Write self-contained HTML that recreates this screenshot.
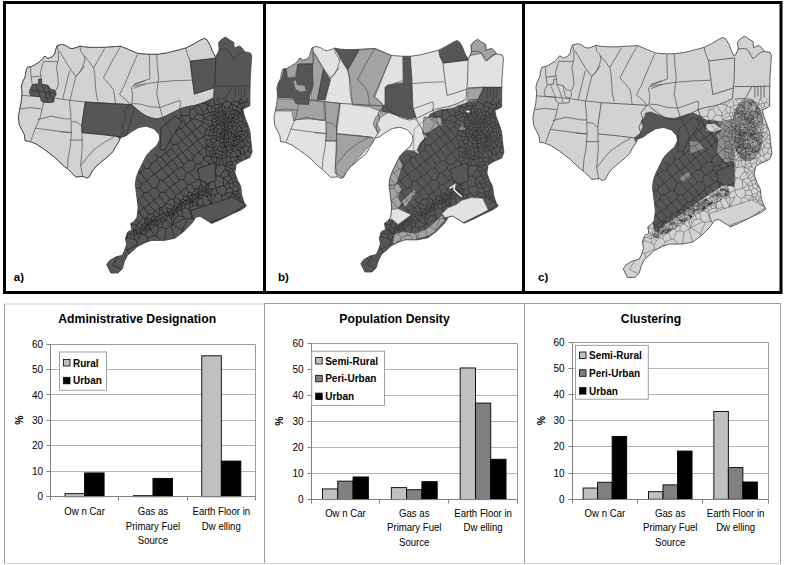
<!DOCTYPE html>
<html><head><meta charset="utf-8"><style>
html,body{margin:0;padding:0;background:#fff;}
svg{display:block;font-family:"Liberation Sans", sans-serif;}
</style></head><body>
<svg width="785" height="565" viewBox="0 0 785 565">
<rect x="0" y="0" width="785" height="565" fill="#fff"/>
<defs>
<polygon id="outl" points="57.1,45.5 62.1,44.3 65.8,45.5 69.5,48.0 72.6,48.6 78.2,46.8 80.0,45.9 84.4,46.8 91.1,47.4 99.8,47.4 110.9,46.8 120.8,46.2 128.3,49.3 137.0,53.0 140.0,53.6 149.3,54.2 157.3,54.2 166.5,52.9 174.5,50.9 179.8,49.6 185.8,47.9 193.1,44.3 199.7,40.3 204.4,38.3 207.0,39.6 210.4,45.6 212.3,50.9 215.0,56.2 216.2,55.8 218.1,52.4 219.1,49.5 218.6,42.7 221.1,39.7 225.4,37.0 229.3,39.7 233.7,42.2 234.2,48.0 239.6,46.1 242.0,48.0 244.9,51.9 250.3,52.9 251.7,55.8 251.3,62.1 250.8,68.9 250.3,76.7 250.1,85.0 249.9,95.0 249.9,105.7 243.0,109.2 244.1,114.9 247.6,124.1 249.9,131.0 251.0,142.5 252.2,151.7 249.9,157.5 241.8,161.0 236.1,164.4 234.9,172.5 237.2,179.4 240.7,186.3 241.8,195.5 244.1,202.4 246.4,206.0 241.8,209.5 231.6,214.2 221.1,219.4 211.6,223.6 208.5,221.5 200.1,216.3 195.9,217.3 191.7,223.6 183.3,232.0 174.9,238.3 164.4,240.4 151.7,240.4 145.4,242.5 137.0,246.7 133.9,249.9 127.6,255.2 124.4,261.5 122.3,268.8 118.1,273.0 110.8,273.0 106.6,264.6 109.7,260.4 116.0,256.8 122.3,255.2 124.4,251.0 126.5,244.6 125.5,238.3 127.6,232.0 131.8,229.9 130.7,223.6 133.9,221.5 137.0,217.3 138.1,207.9 137.0,198.4 136.0,190.0 135.3,185.0 136.2,177.6 139.0,170.2 142.7,162.8 146.4,155.4 151.4,150.0 156.5,146.0 159.7,139.6 159.1,134.5 154.0,128.8 146.3,126.2 138.7,127.5 131.0,132.0 126.0,135.8 120.6,137.7 119.5,140.4 117.4,144.1 115.2,147.3 113.1,151.6 108.9,155.8 102.5,161.1 96.1,166.4 91.9,171.7 89.2,177.1 86.6,178.1 83.4,176.5 75.9,177.1 72.7,173.9 68.5,169.6 64.2,166.4 60.1,162.7 54.8,157.4 49.5,153.4 44.2,149.4 36.2,144.1 29.6,141.5 25.0,140.8 24.3,134.8 22.3,130.8 19.0,124.2 18.3,116.2 19.6,109.6 21.0,103.0 21.5,99.0 21.8,94.5 21.8,90.8 21.2,87.0 22.4,82.1 24.9,77.1 26.2,69.7 27.4,67.2 31.1,66.6 34.8,64.7 39.8,61.6 42.9,58.5 44.1,56.3 46.0,56.7 47.8,58.5 52.2,56.7 54.7,53.6 55.9,48.6"/>
<clipPath id="clipA"><use href="#outl"/></clipPath>
<clipPath id="clipB"><use href="#outl" transform="matrix(0.983 0 0 0.986 256 2.8)"/></clipPath>
<clipPath id="clipC"><use href="#outl" transform="matrix(1.022 0 0 1.022 514.2 -1.6)"/></clipPath>
<g id="llines"><polyline points="21.8,95.4 40.2,96.6 54.8,98.2 69.4,100.3 85.2,102.0" fill="none" stroke="#505050" stroke-width="0.7"/><polyline points="57.1,45.5 58.4,51.1 58.4,59.8 56.5,67.2 57.8,75.9 58.4,84.6 55.9,90.5" fill="none" stroke="#505050" stroke-width="0.7"/><polyline points="43.5,61.6 57.8,61.6" fill="none" stroke="#505050" stroke-width="0.7"/><polyline points="43.5,61.6 40.4,72.2 41.0,77.1 41.6,79.0" fill="none" stroke="#505050" stroke-width="0.7"/><polyline points="31.1,77.1 41.0,75.9" fill="none" stroke="#505050" stroke-width="0.7"/><polyline points="30.5,67.2 31.1,77.1 32.3,84.6" fill="none" stroke="#505050" stroke-width="0.7"/><polyline points="59.6,51.1 64.6,59.8 69.5,67.8 75.7,76.5 80.7,70.9 84.3,66.0" fill="none" stroke="#505050" stroke-width="0.7"/><polyline points="69.5,70.9 64.6,90.8 62.7,99.2" fill="none" stroke="#505050" stroke-width="0.7"/><polyline points="75.7,77.1 73.2,87.0 70.1,100.0" fill="none" stroke="#505050" stroke-width="0.7"/><polyline points="80.0,46.2 80.6,51.1 84.3,56.1 84.9,59.8 83.0,66.0 80.0,72.2 76.2,75.9 75.7,77.1" fill="none" stroke="#505050" stroke-width="0.7"/><polyline points="84.3,56.1 88.6,61.0 93.6,67.8 94.8,74.7 95.4,84.6 96.1,93.2 97.9,101.2" fill="none" stroke="#505050" stroke-width="0.7"/><polyline points="104.7,48.6 93.6,67.8" fill="none" stroke="#505050" stroke-width="0.7"/><polyline points="120.8,46.2 112.2,61.0 103.5,77.8 108.5,83.3 113.4,89.5 114.7,97.0 115.3,103.6" fill="none" stroke="#505050" stroke-width="0.7"/><polyline points="137.6,54.2 130.8,69.7 124.6,84.6 119.6,94.5 127.0,100.7 129.8,104.6" fill="none" stroke="#505050" stroke-width="0.7"/><polyline points="145.0,80.8 134.5,84.6 131.4,87.7 132.6,94.5 132.0,103.8" fill="none" stroke="#505050" stroke-width="0.7"/><polyline points="145.0,84.0 133.9,88.3" fill="none" stroke="#505050" stroke-width="0.7"/><polyline points="149.3,54.2 149.6,68.2 150.0,78.8 140.0,82.1 133.9,84.2" fill="none" stroke="#505050" stroke-width="0.7"/><polyline points="156.6,54.2 157.3,65.5 158.6,77.5 157.3,88.1 156.6,93.4 157.9,99.0 159.6,106.8 162.7,117.0" fill="none" stroke="#505050" stroke-width="0.7"/><polyline points="133.0,86.0 140.0,84.8 157.3,82.1 173.2,80.8 191.8,80.1" fill="none" stroke="#505050" stroke-width="0.7"/><polyline points="185.8,47.9 187.1,53.6 190.2,61.2" fill="none" stroke="#505050" stroke-width="0.7"/><polyline points="132.5,103.5 140.0,104.0 150.0,106.8 160.2,107.4 179.9,100.4 180.6,104.8 179.3,109.3" fill="none" stroke="#505050" stroke-width="0.7"/><polyline points="20.3,108.9 29.6,107.6 41.5,108.9" fill="none" stroke="#505050" stroke-width="0.7"/><polyline points="43.5,102.5 40.2,117.6 34.9,129.5 30.9,140.8" fill="none" stroke="#505050" stroke-width="0.7"/><polyline points="37.6,119.6 50.8,116.2 65.4,118.9 70.8,118.9" fill="none" stroke="#505050" stroke-width="0.7"/><polyline points="34.9,128.2 50.8,130.2 70.8,132.8" fill="none" stroke="#505050" stroke-width="0.7"/><polyline points="69.4,100.3 70.8,114.9 71.4,133.5 70.1,148.1 68.1,158.7 67.4,170.0" fill="none" stroke="#505050" stroke-width="0.7"/><polyline points="71.4,121.5 77.4,122.2 81.4,126.2" fill="none" stroke="#505050" stroke-width="0.7"/><polyline points="70.1,140.1 83.4,140.1" fill="none" stroke="#505050" stroke-width="0.7"/><polyline points="81.8,132.6 82.3,146.2 80.7,165.4 82.8,177.1" fill="none" stroke="#505050" stroke-width="0.7"/><polyline points="80.7,165.4 92.9,150.5 104.6,142.0 114.2,136.7" fill="none" stroke="#505050" stroke-width="0.7"/><polyline points="60.0,131.9 71.7,132.4" fill="none" stroke="#505050" stroke-width="0.7"/></g>
<g id="clines"><polyline points="216.2,55.8 219.1,49.5 225.4,49.0 228.4,50.0 233.7,59.2 241.0,52.9 244.9,51.9" fill="none" stroke="#3a3a3a" stroke-width="0.7"/><polyline points="215.7,58.2 215.2,80.0 214.3,88.0 213.7,97.8" fill="none" stroke="#3a3a3a" stroke-width="0.7"/><polyline points="215.5,86.3 250.5,85.9" fill="none" stroke="#3a3a3a" stroke-width="0.7"/><polyline points="235.5,86.0 235.5,97.0" fill="none" stroke="#3a3a3a" stroke-width="0.7"/><polyline points="238.5,86.0 238.5,96.0" fill="none" stroke="#3a3a3a" stroke-width="0.7"/><polyline points="241.5,86.0 241.5,98.0" fill="none" stroke="#3a3a3a" stroke-width="0.7"/><polyline points="244.5,86.0 244.5,97.0" fill="none" stroke="#3a3a3a" stroke-width="0.7"/><polyline points="232.8,86.0 226.0,98.0" fill="none" stroke="#3a3a3a" stroke-width="0.7"/><polyline points="216.0,98.5 226.0,98.0" fill="none" stroke="#3a3a3a" stroke-width="0.7"/><polyline points="190.2,61.2 215.7,58.2" fill="none" stroke="#3a3a3a" stroke-width="0.7"/><polyline points="190.2,61.2 191.8,74.8 194.4,94.1 214.3,87.6" fill="none" stroke="#3a3a3a" stroke-width="0.7"/><polyline points="85.2,102.0 129.8,104.6" fill="none" stroke="#3a3a3a" stroke-width="0.7"/><polyline points="85.2,102.0 81.8,125.0 82.0,132.6 102.5,134.6 119.5,136.7" fill="none" stroke="#3a3a3a" stroke-width="0.7"/><polyline points="129.8,104.6 131.0,103.9 134.9,107.7 141.2,112.8 146.3,116.0 151.4,117.9 156.4,118.9 162.7,117.6 169.1,114.4 175.5,111.2 180.6,108.7 186.9,106.8 194.6,105.5 201.0,103.6 207.3,101.0 213.7,97.8" fill="none" stroke="#3a3a3a" stroke-width="0.7"/><polyline points="129.8,104.6 124.0,112.0 126.0,118.0 122.0,126.0 124.0,132.0 120.6,137.7" fill="none" stroke="#3a3a3a" stroke-width="0.7"/><polyline points="163.0,118.0 170.0,130.0 172.0,140.0" fill="none" stroke="#3a3a3a" stroke-width="0.7"/><polyline points="180.0,109.0 186.0,125.0 200.0,140.0" fill="none" stroke="#3a3a3a" stroke-width="0.7"/></g>
<path id="tex" d="M112.8 265.1L121.5 269.6M112.8 265.1L118.1 256.3M129.1 253.9L127.4 249.5M127.4 249.5L125.2 248.7M147.1 241.9L146.5 241.4M146.5 241.4L140.8 244.8M127.4 249.5L137.5 245.3M137.5 245.3L138.8 245.8M160.9 240.4L156.0 235.9M156.0 235.9L154.2 235.6M146.5 241.4L147.8 238.1M154.2 235.6L147.8 238.1M182.8 216.6L181.6 210.3M182.8 216.6L179.0 215.8M179.0 215.8L176.9 212.5M176.9 212.5L177.0 212.4M177.0 212.4L177.3 211.5M180.1 210.0L177.3 211.5M180.1 210.0L180.6 210.0M180.6 210.0L181.6 210.3M180.8 191.7L186.0 187.7M180.8 191.7L174.9 183.8M183.8 179.6L179.6 179.9M183.8 179.6L187.2 184.4M187.2 184.4L186.0 187.7M174.9 183.8L179.6 179.9M190.9 184.2L196.5 179.8M190.9 184.2L187.2 184.4M186.3 172.7L183.8 179.6M186.3 172.7L189.5 172.3M196.5 179.8L189.5 172.3M179.0 215.8L176.6 216.5M176.9 212.5L173.5 213.8M176.6 216.5L173.4 213.9M173.4 213.9L173.5 213.8M172.6 224.5L182.4 230.3M172.6 224.5L172.4 224.5M172.4 224.5L171.6 224.9M171.6 224.9L170.9 225.9M170.9 225.9L174.8 238.3M182.4 230.3L182.8 231.4M182.8 231.4L181.7 233.2M186.9 219.3L184.6 218.4M186.9 219.3L182.4 230.3M184.6 218.4L172.6 224.5M164.5 240.4L166.3 228.7M166.3 228.7L170.9 225.9M186.9 219.3L192.1 218.1M193.1 218.4L192.1 218.1M183.7 231.6L182.8 231.4M134.4 230.3L135.0 230.3M134.4 230.3L131.5 228.1M135.0 230.3L136.6 224.6M136.6 224.6L131.5 225.1M131.0 225.5L131.5 225.1M237.2 211.6L235.6 211.3M229.3 215.3L229.3 215.3M211.4 223.5L214.2 220.7M222.8 218.6L222.2 217.8M207.1 192.3L206.8 189.8M207.1 192.3L205.9 192.9M205.9 192.9L206.0 190.7M206.8 189.8L206.0 190.7M204.6 191.1L204.7 194.3M204.6 191.1L206.0 190.7M204.7 194.3L205.9 192.9M202.3 189.4L204.2 189.0M202.3 189.4L201.5 185.0M204.2 189.0L205.1 187.9M201.5 185.0L205.1 187.9M207.2 189.0L209.6 189.1M207.2 189.0L205.6 187.9M209.6 189.1L208.7 186.6M208.7 186.6L206.5 185.3M206.5 185.3L205.6 187.9M204.6 191.1L204.1 190.7M207.2 189.0L206.8 189.8M204.1 190.7L204.2 189.0M205.1 187.9L205.6 187.9M137.3 200.7L137.8 200.3M137.1 199.5L137.8 200.3M149.1 204.5L149.3 203.7M149.1 204.5L144.3 207.9M149.3 203.7L142.6 196.2M144.3 207.9L143.8 208.0M143.8 208.0L137.9 200.3M142.6 196.2L137.9 200.3M216.2 220.0L217.2 221.1M127.1 234.0L127.1 236.9M127.1 234.0L130.1 233.9M127.1 236.9L135.2 239.8M130.1 233.9L134.0 235.7M135.2 239.8L134.0 235.7M127.0 233.8L127.1 234.0M125.8 240.0L127.1 236.9M133.9 231.1L130.1 233.9M133.9 231.1L134.4 230.3M136.9 241.9L137.5 245.3M136.9 241.9L135.2 239.8M134.2 235.4L133.9 231.1M134.2 235.4L134.0 235.7M136.9 241.9L139.0 237.3M134.2 235.4L136.1 233.9M139.0 237.3L136.1 233.9M160.4 207.6L160.0 207.9M160.4 207.6L161.6 207.5M161.6 207.5L163.2 212.8M162.2 214.8L163.1 213.5M162.2 214.8L159.7 214.8M160.0 207.9L159.7 214.8M163.2 212.8L163.1 213.5M180.1 210.0L177.0 208.7M177.3 211.5L176.4 210.3M177.0 208.7L176.4 210.3M177.0 212.4L174.5 210.9M174.5 210.9L175.6 210.2M176.4 210.3L175.6 210.2M153.8 200.1L153.7 200.3M153.8 200.1L158.9 195.9M153.7 200.3L160.4 207.6M161.6 207.5L164.4 205.8M158.9 195.9L165.2 203.9M164.4 205.8L165.2 203.9M174.4 211.0L172.4 208.7M174.4 211.0L173.4 213.7M173.3 213.6L173.4 213.7M173.3 213.6L171.8 209.0M171.8 209.0L172.4 208.7M174.5 210.9L174.4 211.0M173.5 213.8L173.4 213.7M170.5 212.0L173.3 213.6M170.5 212.0L171.3 209.2M171.3 209.2L171.8 209.0M184.6 218.4L182.8 216.6M192.1 218.1L189.4 209.5M181.6 210.3L182.9 209.0M189.4 209.5L185.2 207.7M182.9 209.0L185.2 207.7M174.2 183.9L169.6 187.9M174.2 183.9L174.9 183.8M180.6 192.1L175.9 195.4M180.6 192.1L180.8 191.7M175.9 195.4L169.6 187.9M158.9 195.9L160.0 192.4M160.0 192.4L164.7 192.1M165.2 203.9L166.0 203.4M166.0 203.4L169.9 199.3M169.9 199.3L164.7 192.1M137.5 213.0L138.3 212.3M137.7 211.4L138.3 212.3M136.6 224.6L136.7 224.5M131.5 225.1L132.0 222.7M136.7 224.5L138.4 222.4M138.4 222.4L135.7 219.0M138.9 212.2L138.3 212.3M138.9 212.2L143.8 208.0M137.8 200.3L137.9 200.3M176.6 216.5L174.2 219.8M172.4 224.5L172.4 224.5M172.4 224.5L174.2 219.8M173.1 214.3L173.4 213.9M173.1 214.3L172.8 215.3M174.2 219.8L172.8 215.3M141.7 225.1L141.4 227.1M141.7 225.1L145.0 227.3M141.4 227.1L143.9 228.5M145.0 227.3L143.9 228.5M251.7 153.0L247.8 151.1M247.8 151.1L244.3 153.2M248.1 158.3L246.7 157.9M246.7 157.9L243.9 154.0M243.9 154.0L244.3 153.2M251.4 145.8L250.9 145.7M247.8 151.1L248.9 146.7M250.9 145.7L248.9 146.7M247.5 98.1L246.5 101.5M249.9 104.6L246.5 101.5M245.1 117.6L244.2 117.0M244.7 116.4L244.2 117.0M231.3 102.8L233.4 100.9M231.3 102.8L225.8 100.7M225.8 100.7L225.4 98.5M233.4 100.9L234.3 98.3M180.6 113.2L181.2 115.6M189.6 108.7L190.4 109.3M181.2 115.6L189.2 115.4M190.4 109.3L189.2 115.4M247.2 123.0L246.5 123.9M249.0 128.3L248.3 128.1M246.5 123.9L247.2 126.0M248.3 128.1L247.2 126.0M209.1 183.8L210.4 182.5M209.1 183.8L206.5 184.9M206.5 184.9L201.6 180.4M208.7 186.6L209.1 183.8M206.5 185.3L206.5 184.9M200.8 184.2L201.5 185.0M200.8 184.2L200.8 179.9M135.8 188.4L140.1 188.1M142.6 196.2L143.7 192.7M140.1 188.1L143.7 192.7M153.8 200.1L147.8 192.2M153.7 200.3L149.3 203.7M143.7 192.7L147.8 192.2M156.6 187.9L160.0 192.4M156.6 187.9L152.8 188.2M152.8 188.2L147.8 192.2M182.3 167.5L178.4 168.0M182.3 167.5L183.6 164.4M183.6 164.4L177.6 156.0M178.4 168.0L172.6 160.1M172.6 160.1L177.6 156.0M216.8 131.8L217.3 132.6M216.8 131.8L213.1 132.9M213.1 132.9L213.2 135.5M213.2 135.5L216.1 135.7M217.3 132.6L216.1 135.7M216.1 135.7L218.3 136.4M216.1 135.7L216.1 139.8M218.3 136.4L216.1 139.8M218.9 128.8L220.6 131.5M218.9 128.8L220.6 127.5M220.6 127.5L222.2 128.9M222.2 128.9L222.3 130.5M220.6 131.5L222.3 130.5M217.3 132.6L219.9 133.8M216.1 135.7L216.1 135.7M218.3 136.4L219.3 136.2M219.3 136.2L220.0 133.8M219.9 133.8L220.0 133.8M210.5 140.1L206.0 140.0M210.5 140.1L211.1 141.9M206.0 140.0L206.2 145.8M211.1 141.9L206.2 145.8M205.0 147.9L204.0 148.0M205.0 147.9L205.9 146.9M197.9 140.3L204.0 148.0M197.9 140.3L203.2 136.5M206.0 140.0L203.2 136.5M205.9 146.9L206.2 145.8M162.2 214.8L162.3 217.0M163.1 213.5L165.7 215.6M162.3 217.0L163.5 217.6M165.7 215.6L163.5 217.6M163.2 212.8L166.7 212.9M165.7 215.6L166.8 215.7M166.8 215.7L166.7 212.9M166.4 207.8L164.4 205.8M166.4 207.8L167.6 211.6M167.6 211.6L166.7 212.9M175.6 210.2L174.9 208.0M172.4 208.7L173.4 207.2M174.9 208.0L173.4 207.2M171.3 209.2L166.4 207.8M166.0 203.4L173.5 206.7M173.5 206.7L173.4 207.2M182.9 209.0L181.0 205.9M185.2 207.7L184.9 206.0M184.9 206.0L182.6 205.4M181.0 205.9L182.6 205.4M180.6 210.0L180.0 208.6M180.0 208.6L180.4 205.6M181.0 205.9L180.4 205.6M156.0 235.9L158.9 227.8M166.3 228.7L162.3 227.4M162.3 227.4L158.9 227.8M154.2 235.6L150.9 229.7M154.3 225.7L150.9 229.7M154.3 225.7L155.1 225.6M155.1 225.6L157.4 226.3M158.9 227.8L157.4 226.3M143.6 217.9L138.6 222.4M143.6 217.9L145.2 218.2M145.2 218.2L144.3 223.7M144.3 223.7L141.7 224.7M141.7 224.7L138.6 222.4M138.9 212.2L143.6 217.9M138.4 222.4L138.6 222.4M160.0 207.9L154.7 210.9M159.7 214.8L159.3 215.1M159.3 215.1L154.7 210.9M149.1 204.5L154.6 211.0M144.3 207.9L148.6 214.3M148.6 214.3L153.2 213.5M153.2 213.5L154.6 211.0M154.6 211.0L154.7 210.9M162.3 217.0L160.0 218.4M159.3 215.1L158.6 216.8M160.0 218.4L158.6 216.8M172.4 224.5L171.3 220.1M172.8 215.3L171.6 216.4M171.3 220.1L171.6 216.4M171.6 224.9L166.5 220.8M166.5 220.8L167.2 216.0M167.2 216.0L168.6 215.7M171.3 220.1L168.6 215.7M136.3 233.6L140.9 234.1M136.3 233.6L136.1 231.8M136.1 231.8L140.9 234.1M139.0 237.3L141.1 234.2M136.1 233.9L136.3 233.6M141.1 234.2L140.9 234.1M135.0 230.3L135.7 230.6M135.7 230.6L136.1 231.8M138.7 228.4L140.6 228.6M138.7 228.4L136.9 230.3M136.9 230.3L141.0 232.5M140.6 228.6L141.1 229.8M141.1 229.8L141.0 232.5M136.7 224.5L138.7 228.4M141.7 225.1L141.7 224.7M141.4 227.1L140.6 228.6M135.7 230.6L136.9 230.3M143.8 229.3L143.9 228.5M143.8 229.3L141.1 229.8M233.1 150.8L234.4 151.1M233.1 150.8L230.8 153.3M230.5 157.3L237.3 156.8M230.5 157.3L229.6 156.6M237.3 156.8L237.5 156.4M237.5 156.4L234.4 151.1M230.8 153.3L229.6 156.6M236.5 160.4L237.2 158.1M236.5 160.4L237.7 163.5M237.2 158.1L240.7 160.9M240.4 161.8L240.7 160.9M237.2 158.1L237.3 156.8M237.5 156.4L238.1 156.2M238.1 156.2L243.0 160.4M240.7 160.9L243.0 160.4M238.2 211.2L239.4 209.2M239.4 209.2L239.3 209.0M237.2 179.4L235.7 181.3M237.0 178.8L234.3 177.8M234.3 177.8L231.7 178.7M231.7 178.7L233.3 182.0M235.7 181.3L233.3 182.0M239.6 184.2L238.4 184.3M238.3 183.1L238.4 184.3M238.3 183.1L238.7 182.3M244.2 117.0L243.1 117.1M243.1 117.1L242.0 116.4M242.0 116.4L242.0 116.4M242.0 116.4L243.8 113.5M247.1 107.1L244.6 105.7M242.7 107.0L244.6 105.7M242.7 107.0L242.0 108.5M243.1 109.2L242.0 108.5M225.3 109.3L227.5 111.0M225.3 109.3L224.0 110.5M224.0 110.5L225.8 113.7M227.5 111.0L226.4 113.3M225.8 113.7L226.4 113.3M228.7 118.1L230.2 117.7M228.7 118.1L228.4 117.3M230.9 113.9L229.0 114.7M230.9 113.9L231.8 114.5M231.8 114.5L231.4 116.1M228.4 117.3L229.0 114.7M230.2 117.7L231.4 116.1M229.2 107.8L228.5 110.7M229.2 107.8L229.4 107.6M229.4 107.6L232.4 110.2M228.5 110.7L230.3 111.6M230.3 111.6L232.4 110.2M225.0 107.3L225.3 109.3M225.0 107.3L229.2 107.8M227.5 111.0L228.5 110.7M222.8 103.9L225.0 107.3M222.8 103.9L225.8 100.7M231.3 102.8L231.5 103.6M231.5 103.6L229.4 107.6M231.5 103.6L231.6 103.7M231.6 103.7L233.2 110.0M233.2 110.0L232.4 110.2M230.9 113.9L230.3 111.6M229.0 114.7L226.4 113.3M220.6 127.5L220.7 126.5M220.7 126.5L221.5 126.0M224.6 127.9L225.5 126.5M224.6 127.9L222.9 128.8M225.5 126.5L225.5 126.5M222.9 128.8L222.2 128.9M225.5 126.5L221.5 126.0M219.9 125.5L220.2 124.0M219.9 125.5L220.7 126.5M220.2 124.0L222.1 122.6M222.1 122.6L222.7 124.3M222.7 124.3L221.5 126.0M194.3 108.1L197.3 113.9M194.3 108.1L197.8 104.9M198.3 104.7L203.1 112.3M203.1 112.3L203.0 115.2M197.3 113.9L203.0 115.2M205.9 129.6L204.8 135.1M205.9 129.6L206.5 129.4M210.7 131.8L210.5 131.0M210.7 131.8L207.6 134.8M207.6 134.8L204.8 135.1M206.5 129.4L210.5 131.0M242.0 116.4L241.5 115.0M243.6 112.5L242.6 112.4M241.5 115.0L242.6 112.4M238.4 112.2L240.3 112.9M238.4 112.2L238.3 114.3M238.3 114.3L240.4 113.8M240.3 112.9L240.4 113.8M241.5 115.0L240.4 113.8M242.6 112.4L241.5 111.3M241.5 111.3L240.3 112.9M246.5 123.9L245.7 123.7M247.2 126.0L241.2 128.8M245.7 123.7L240.5 127.0M241.2 128.8L240.5 127.0M243.1 117.1L242.8 121.5M245.7 123.7L243.6 122.4M242.8 121.5L243.6 122.4M230.8 153.3L227.0 151.1M229.6 156.6L227.3 156.6M227.3 156.6L226.7 154.8M226.7 154.8L227.0 151.1M233.1 150.8L232.6 150.1M232.3 149.8L232.6 150.1M232.3 149.8L226.6 150.2M226.6 150.2L227.0 151.1M181.2 115.6L180.1 117.8M180.1 117.8L178.1 118.6M141.5 184.3L146.6 180.6M141.5 184.3L136.8 178.2M137.7 174.7L140.5 172.6M140.5 172.6L146.6 180.5M146.6 180.5L146.6 180.6M140.1 188.1L141.5 184.3M152.8 188.2L146.6 180.6M139.0 170.2L140.6 172.2M140.6 172.2L140.5 172.6M182.1 152.6L177.7 156.0M182.1 152.6L177.0 144.2M177.7 156.0L171.2 148.7M171.2 148.7L172.7 144.5M172.7 144.5L177.0 144.2M183.6 164.4L188.6 160.4M188.6 160.4L182.8 152.6M182.8 152.6L182.1 152.6M177.6 156.0L177.7 156.0M181.6 140.7L188.0 147.7M181.6 140.7L177.0 144.2M182.8 152.6L187.6 148.9M188.0 147.7L187.6 148.9M140.6 172.2L145.6 168.6M154.2 174.2L149.5 168.3M154.2 174.2L146.6 180.5M145.6 168.6L149.5 168.3M145.6 168.6L142.2 163.8M156.6 187.9L159.4 180.5M154.2 174.2L154.5 174.2M154.5 174.2L159.4 180.5M164.7 192.1L169.4 188.0M169.4 188.0L162.8 180.2M159.4 180.5L162.8 180.2M174.2 183.9L168.3 176.1M169.6 187.9L169.4 188.0M162.8 180.2L168.3 176.1M208.3 135.2L210.9 139.4M208.3 135.2L212.9 135.9M212.9 135.9L212.8 138.2M210.9 139.4L212.8 138.2M210.5 140.1L210.9 139.4M203.2 136.5L203.3 136.2M203.3 136.2L204.8 135.1M207.6 134.8L208.3 135.2M212.7 132.6L210.7 131.8M212.7 132.6L213.1 132.9M213.2 135.5L212.9 135.9M216.1 139.8L216.1 140.0M216.1 140.0L212.8 138.2M214.7 142.7L212.7 143.2M214.7 142.7L216.4 140.6M216.4 140.6L216.1 140.0M211.1 141.9L212.7 143.2M222.9 128.8L225.2 130.5M222.3 130.5L222.7 131.1M225.2 130.5L222.7 131.1M219.3 141.1L220.2 139.7M219.3 141.1L216.4 140.6M219.3 136.2L220.1 137.8M220.1 137.8L220.2 139.7M207.5 146.8L212.5 144.1M207.5 146.8L213.0 147.9M212.5 144.1L213.3 147.4M213.0 147.9L213.3 147.4M212.7 143.2L212.5 144.1M205.9 146.9L207.5 146.8M216.5 146.0L214.7 142.7M216.5 146.0L213.3 147.4M169.7 214.6L169.9 212.3M169.7 214.6L168.9 215.5M168.9 215.5L168.7 215.6M168.7 215.6L167.9 211.8M169.9 212.3L167.9 211.8M170.5 212.0L169.9 212.3M173.1 214.3L169.7 214.6M171.6 216.4L168.9 215.5M168.6 215.7L168.7 215.6M167.2 216.0L166.8 215.7M167.6 211.6L167.9 211.8M177.2 206.4L178.3 206.0M177.2 206.4L176.7 208.2M176.8 208.4L176.7 208.2M176.8 208.4L178.8 207.4M178.8 207.4L178.3 206.0M174.9 208.0L176.7 208.2M173.5 206.7L174.3 205.1M174.3 205.1L177.2 206.4M177.0 208.7L176.8 208.4M180.0 208.6L178.8 207.4M174.3 205.1L174.7 201.6M178.3 206.0L179.1 204.5M174.7 201.6L179.1 204.5M169.9 199.3L173.8 198.8M174.7 201.6L173.8 198.8M175.9 195.4L175.2 197.3M173.8 198.8L175.2 197.3M166.5 220.8L165.7 220.6M162.3 227.4L162.3 223.2M162.3 223.2L165.7 220.6M163.5 217.6L164.7 220.0M165.7 220.6L164.7 220.0M158.0 221.5L157.7 225.2M158.0 221.5L158.7 220.5M157.7 225.2L161.0 221.9M158.7 220.5L160.0 219.9M161.0 221.9L160.4 220.3M160.0 219.9L160.4 220.3M155.1 225.6L155.0 223.5M155.7 221.3L155.0 223.5M155.7 221.3L158.0 221.5M157.4 226.3L157.7 225.2M155.7 221.3L155.1 220.2M155.1 220.2L157.3 219.7M157.3 219.7L158.7 220.5M162.3 223.2L161.0 221.9M160.0 218.4L160.0 219.9M158.6 216.8L156.0 216.8M156.0 216.8L157.3 219.7M164.7 220.0L160.4 220.3M154.3 225.7L152.3 224.3M155.0 223.5L154.2 222.4M154.2 222.4L151.8 221.1M151.8 221.1L151.6 223.0M152.3 224.3L151.6 223.0M148.6 214.3L146.6 217.5M145.2 218.2L145.3 218.1M145.3 218.1L146.6 217.5M232.3 149.8L230.5 147.3M232.6 150.1L233.4 147.7M230.5 147.3L232.6 145.3M233.4 147.7L232.6 145.3M241.3 154.4L240.1 150.5M241.3 154.4L241.0 154.5M241.0 154.5L237.7 149.7M240.1 150.5L237.7 149.7M246.7 157.9L245.2 159.5M243.9 154.0L241.3 154.4M238.1 156.2L241.0 154.5M243.2 160.4L243.0 160.4M234.4 151.1L236.4 149.6M236.4 149.6L237.3 149.4M237.3 149.4L237.7 149.7M248.1 134.2L250.2 134.3M248.1 134.2L246.4 137.5M246.4 137.5L250.6 138.0M248.3 128.1L246.5 130.7M246.5 130.7L248.1 134.2M250.0 142.5L247.6 141.3M250.0 142.5L250.8 140.8M247.6 141.3L245.3 138.7M245.6 137.9L245.3 138.7M245.6 137.9L246.4 137.5M250.9 145.7L250.0 142.5M227.3 156.6L222.1 154.9M227.3 156.6L226.5 157.6M222.1 154.9L222.0 155.0M226.5 157.6L222.2 158.5M222.0 155.0L222.0 158.4M222.2 158.5L222.0 158.4M226.5 157.6L225.8 163.5M223.5 164.8L222.2 158.5M223.5 164.8L224.7 165.1M224.7 165.1L225.8 163.5M230.5 157.3L231.1 161.1M227.3 156.6L227.3 156.6M225.8 163.5L231.1 161.1M236.5 160.4L232.2 162.0M231.1 161.1L232.2 162.0M235.8 175.4L235.8 175.2M235.8 175.4L235.9 175.4M234.3 177.8L235.8 175.4M235.7 181.3L238.3 183.1M234.6 173.8L232.6 170.8M234.6 173.8L230.1 176.5M232.6 170.8L230.2 172.8M230.2 172.8L229.0 175.5M230.1 176.5L229.0 175.7M229.0 175.7L229.0 175.5M231.5 178.5L230.1 176.5M231.5 178.5L231.7 178.7M235.4 174.0L234.6 173.8M235.6 167.6L235.5 167.5M232.6 170.8L233.1 169.3M233.1 169.3L235.5 167.5M235.7 167.1L235.5 167.5M232.2 162.0L232.4 164.1M232.4 164.1L232.7 164.7M232.7 164.7L235.5 167.5M235.5 167.5L235.5 167.5M236.4 194.3L238.1 192.1M236.4 194.3L232.7 193.6M233.0 191.8L232.5 192.8M233.0 191.8L237.8 190.7M237.8 190.7L238.1 192.1M232.5 192.8L232.7 193.6M224.8 194.4L229.8 197.5M224.8 194.4L225.9 192.7M225.9 192.7L232.5 192.8M232.7 193.6L232.7 193.7M232.7 193.7L229.8 197.5M221.8 200.6L222.0 196.0M222.0 196.0L224.8 194.4M229.8 197.5L229.9 198.0M239.4 209.2L240.6 208.1M239.5 197.2L242.9 198.8M239.5 197.2L238.6 197.8M243.1 199.5L243.6 203.2M238.6 197.8L242.5 202.6M245.2 204.1L245.2 204.1M244.9 207.1L243.8 206.1M228.2 182.0L223.1 177.5M228.2 182.0L228.2 182.6M228.2 182.6L224.2 186.0M223.1 177.5L223.6 185.8M223.6 185.8L224.2 186.0M223.1 177.5L223.1 177.5M223.1 177.5L229.0 175.7M231.5 178.5L228.2 182.0M216.1 187.5L214.2 181.2M216.1 187.5L223.6 185.8M215.9 177.8L217.1 175.7M220.3 176.0L217.1 175.7M220.3 176.0L223.1 177.5M231.7 187.7L229.9 187.5M231.7 187.7L233.9 185.6M229.9 187.5L229.2 183.4M229.2 183.4L233.2 182.8M233.9 185.6L233.2 182.8M225.9 192.7L226.3 188.5M226.3 188.5L229.9 187.5M233.0 191.8L231.7 187.7M238.7 189.2L237.1 186.4M238.7 189.2L237.8 190.7M237.1 186.4L233.9 185.6M226.3 188.5L224.2 186.0M228.2 182.6L229.2 183.4M233.3 182.0L233.2 182.8M237.1 186.4L238.4 184.3M209.6 189.1L210.3 189.3M207.1 192.3L207.7 192.4M207.7 192.4L210.3 189.3M204.5 194.9L206.3 195.8M204.5 194.9L204.7 194.3M206.3 195.8L208.1 193.3M207.7 192.4L208.1 193.3M240.2 195.5L239.5 197.2M240.2 195.5L241.7 194.8M244.8 102.7L244.7 102.8M244.8 102.7L240.8 99.0M244.7 102.8L239.6 103.4M240.8 99.0L240.5 99.1M240.5 99.1L239.0 102.2M239.0 102.2L239.4 103.4M239.4 103.4L239.6 103.4M246.5 101.5L244.8 102.7M244.6 105.7L244.7 102.8M241.7 98.2L240.8 99.0M242.7 107.0L239.6 103.4M239.3 98.3L240.5 99.1M233.4 100.9L239.0 102.2M237.0 106.8L231.6 103.7M237.0 106.8L239.4 103.4M242.0 108.5L241.7 108.7M241.5 111.3L241.2 110.0M241.7 108.7L241.2 110.0M237.0 106.8L237.0 106.8M241.7 108.7L237.0 106.8M238.4 112.2L237.9 111.2M241.2 110.0L237.9 111.2M206.8 101.4L206.3 104.1M206.3 104.1L201.7 103.4M194.3 108.1L190.4 109.3M233.3 114.4L233.6 114.6M233.3 114.4L234.3 110.4M233.6 114.6L236.2 113.6M236.2 113.6L236.6 110.7M234.3 110.4L236.0 110.1M236.6 110.7L236.0 110.1M231.8 114.5L233.3 114.4M233.2 110.0L234.3 110.4M237.7 115.0L236.2 113.6M237.7 115.0L238.3 114.3M237.9 111.2L236.6 110.7M237.0 106.8L236.0 110.1M237.7 115.0L237.8 116.8M233.6 114.6L234.4 116.0M237.8 116.8L234.4 116.0M242.0 116.4L238.3 117.7M237.8 116.8L238.3 117.7M242.8 121.5L239.3 121.1M239.3 121.1L238.1 118.5M238.1 118.5L238.3 117.7M231.4 116.1L232.6 117.3M232.6 117.3L234.2 116.5M234.4 116.0L234.2 116.5M204.5 194.9L203.6 195.1M204.1 190.7L201.6 191.8M203.6 195.1L201.6 191.8M201.6 191.8L201.6 191.8M203.6 195.1L203.0 195.7M203.0 195.7L200.6 195.2M201.6 191.8L199.5 193.7M200.6 195.2L199.5 193.7M206.5 205.5L204.3 204.7M206.3 195.8L207.0 196.3M207.0 196.3L210.7 204.1M203.0 195.7L202.0 198.6M202.0 198.6L204.3 204.7M197.8 208.3L198.5 205.6M204.3 204.7L198.5 205.6M180.6 192.1L183.9 195.9M183.9 195.9L187.0 196.3M186.0 187.7L188.8 191.8M188.8 191.8L187.0 196.3M223.6 124.2L224.7 124.6M223.6 124.2L224.4 121.9M224.7 124.6L225.5 123.4M224.4 121.9L225.5 123.4M225.5 126.5L224.7 124.6M222.7 124.3L223.6 124.2M223.6 121.4L224.3 121.8M223.6 121.4L222.1 121.8M222.1 121.8L222.1 122.6M224.3 121.8L224.4 121.9M227.8 125.9L226.5 126.6M227.8 125.9L228.3 125.3M225.5 126.5L226.5 126.6M227.8 123.2L225.5 123.4M227.8 123.2L228.1 123.7M228.3 125.3L228.1 123.7M231.5 131.9L230.1 129.0M231.5 131.9L231.3 133.0M231.3 133.0L231.1 133.0M231.1 133.0L228.6 131.5M228.6 131.5L228.7 129.8M228.7 129.8L229.5 129.1M229.5 129.1L230.1 129.0M227.8 125.9L229.5 129.1M226.5 126.6L227.0 129.1M227.0 129.1L228.7 129.8M216.9 131.1L217.8 129.2M216.9 131.1L213.8 129.5M217.8 129.2L216.4 127.7M213.8 129.5L213.7 129.1M216.4 127.7L216.0 127.6M216.0 127.6L213.7 128.9M213.7 129.1L213.7 128.9M216.8 131.8L216.9 131.1M218.9 128.8L217.8 129.2M220.6 131.5L219.9 133.8M212.7 132.6L213.8 129.5M217.5 124.6L219.9 125.5M217.5 124.6L217.3 124.6M217.3 124.6L217.1 124.8M217.1 124.8L216.4 127.7M210.9 129.4L210.5 131.0M210.9 129.4L213.7 129.1M217.1 124.8L213.0 125.2M213.0 125.2L216.0 127.6M212.1 124.9L213.7 128.9M212.1 124.9L213.0 125.2M235.1 132.0L236.5 133.7M235.1 132.0L235.4 131.0M236.5 133.7L238.3 133.2M238.3 133.2L238.9 132.2M238.9 132.2L235.4 131.0M228.3 125.3L232.1 126.0M228.1 123.7L230.6 122.7M231.0 122.8L230.6 122.7M231.0 122.8L232.5 124.2M232.1 126.0L232.5 124.2M240.5 127.0L239.3 126.1M243.6 122.4L239.2 125.4M239.3 126.1L239.2 125.4M216.5 146.0L218.2 146.6M218.2 146.6L217.7 149.1M213.0 147.9L213.2 149.0M217.7 149.1L213.2 149.0M222.1 154.9L222.5 152.0M226.7 154.8L222.9 151.9M222.5 152.0L222.9 151.9M217.9 153.1L219.0 151.4M217.9 153.1L219.4 155.3M219.0 151.4L221.7 151.3M219.4 155.3L222.0 155.0M222.5 152.0L221.7 151.3M226.6 150.2L226.4 150.0M222.9 151.9L226.4 150.0M230.5 147.3L230.4 147.2M226.2 146.9L230.4 147.2M226.2 146.9L226.2 146.9M226.4 150.0L226.2 146.9M217.7 149.1L217.7 149.4M217.7 149.4L214.8 151.5M213.2 149.0L213.0 150.1M214.8 151.5L213.0 150.1M171.2 148.7L166.4 152.2M172.7 144.5L169.6 140.7M166.4 152.2L164.5 150.0M195.8 163.9L200.2 163.7M195.8 163.9L192.7 160.1M200.2 163.7L203.5 159.4M192.7 160.1L194.0 156.0M194.0 156.0L198.8 152.1M203.8 158.0L203.5 159.4M203.8 158.0L199.0 152.0M199.0 152.0L198.8 152.1M186.3 172.7L182.3 167.5M189.5 172.3L194.4 168.4M188.6 160.4L192.7 160.1M194.4 168.4L195.8 163.9M187.6 148.9L194.0 156.0M193.0 144.3L188.0 147.7M193.0 144.3L198.8 152.1M206.8 156.4L209.9 156.5M206.8 156.4L205.8 148.9M209.9 156.5L209.7 151.4M205.8 148.9L209.7 151.4M205.0 147.9L205.8 148.9M204.0 148.0L199.0 152.0M203.8 158.0L206.8 156.4M212.0 150.9L213.0 150.1M212.0 150.9L209.7 151.4M194.4 168.4L198.6 172.8M200.2 163.7L203.4 166.6M217.1 175.7L215.4 172.6M196.5 179.8L199.9 179.3M208.8 162.3L211.4 158.9M208.8 162.3L208.9 164.0M208.9 164.0L210.0 164.2M214.8 164.7L216.7 164.9M211.4 158.9L216.2 163.6M216.2 163.6L216.7 164.9M203.5 159.4L208.8 162.3M208.4 164.8L208.9 164.0M215.3 171.4L217.2 165.6M217.2 165.6L216.7 164.9M149.5 168.3L150.9 163.9M147.2 159.6L150.9 163.9M179.6 179.9L173.7 172.3M168.3 176.1L168.3 176.0M168.3 176.0L173.7 172.3M178.4 168.0L173.9 171.7M173.7 172.3L173.9 171.7M172.6 160.1L171.9 160.2M166.4 152.2L166.3 152.6M166.3 152.6L171.9 160.2M173.9 171.7L167.2 164.3M171.9 160.2L167.2 164.3M224.4 136.7L223.1 137.1M224.4 136.7L225.6 139.1M225.6 139.1L224.5 139.5M224.5 139.5L223.1 137.2M223.1 137.2L223.1 137.1M224.2 139.7L224.5 139.5M224.2 139.7L223.8 142.2M223.8 142.2L225.8 142.6M226.2 139.1L225.9 142.6M226.2 139.1L225.6 139.1M225.8 142.6L225.9 142.6M224.2 139.7L221.7 139.4M221.7 139.4L223.1 137.2M185.0 205.0L186.0 204.3M185.0 205.0L183.8 202.8M186.6 200.5L186.0 204.3M186.6 200.5L184.5 200.5M183.8 202.8L184.5 200.5M184.9 206.0L185.0 205.0M182.6 205.4L181.2 203.8M183.8 202.8L183.8 202.8M181.2 203.8L183.8 202.8M179.5 204.5L181.0 203.8M179.5 204.5L179.2 204.5M179.2 204.5L180.1 200.0M181.0 203.8L181.1 201.3M181.1 201.3L180.4 200.1M180.1 200.0L180.4 200.1M180.4 205.6L179.5 204.5M181.2 203.8L181.0 203.8M179.1 204.5L179.2 204.5M175.2 197.3L180.1 200.0M183.8 202.8L181.1 201.3M183.4 199.2L180.4 200.1M183.4 199.2L184.5 200.5M183.9 195.9L183.4 199.2M144.3 223.7L144.7 223.9M145.3 218.1L147.3 222.6M144.7 223.9L147.3 222.6M144.1 229.8L145.2 230.3M144.1 229.8L141.3 233.4M145.2 230.3L145.9 232.8M145.9 232.8L145.2 235.0M145.2 235.0L141.4 234.0M141.4 234.0L141.3 233.4M143.8 229.3L144.1 229.8M145.0 227.3L145.4 227.2M145.4 227.2L145.5 230.0M145.5 230.0L145.2 230.3M141.0 232.5L141.3 233.4M145.5 230.0L147.4 228.9M149.6 229.6L145.9 232.8M149.6 229.6L147.4 228.9M147.8 238.1L145.2 235.0M150.9 229.7L150.4 229.5M150.4 229.5L149.6 229.6M141.1 234.2L141.4 234.0M246.5 130.7L246.0 130.9M245.6 137.9L244.2 135.7M244.2 135.7L246.0 130.9M241.2 128.8L241.2 130.9M241.2 130.9L241.4 131.1M246.0 130.9L241.4 131.1M241.2 130.9L240.4 131.1M238.8 135.7L238.3 133.2M238.8 135.7L239.5 136.0M238.9 132.2L240.4 131.1M241.4 131.1L241.9 133.9M239.5 136.0L241.9 133.9M244.2 135.7L243.1 135.1M241.9 133.9L243.1 135.1M238.8 135.7L237.7 136.0M236.5 133.7L236.0 134.9M237.7 136.0L236.0 134.9M233.5 133.3L235.1 132.0M233.5 133.3L235.5 135.1M235.5 135.1L236.0 134.9M218.9 156.3L221.6 158.4M218.9 156.3L217.2 157.7M217.2 157.7L217.2 157.9M220.1 159.1L221.6 158.4M220.1 159.1L217.2 158.0M217.2 158.0L217.2 157.9M219.4 155.3L218.9 156.3M222.0 158.4L221.6 158.4M218.6 165.2L223.5 164.8M218.6 165.2L220.1 159.1M217.2 165.6L218.6 165.2M216.2 163.6L217.2 158.0M225.2 169.3L224.9 165.4M225.2 169.3L225.9 169.9M225.9 169.9L229.0 170.3M224.9 165.4L225.3 165.5M225.3 165.5L229.1 167.2M229.0 170.3L230.3 168.5M229.1 167.2L230.3 168.5M220.3 176.0L225.2 169.3M224.7 165.1L224.9 165.4M229.0 175.5L225.9 169.9M230.2 172.8L229.0 170.3M232.4 164.1L225.3 165.5M232.7 164.7L229.1 167.2M233.1 169.3L230.3 168.5M238.4 197.9L237.4 199.5M238.4 197.9L236.8 196.7M237.4 199.5L237.0 199.5M236.8 196.7L234.1 196.1M234.1 196.1L233.5 197.6M237.4 199.8L237.4 199.5M238.6 197.8L238.4 197.9M240.2 195.5L238.1 192.1M236.4 194.3L236.8 196.7M232.7 193.7L234.1 196.1M210.3 193.4L211.9 189.6M210.3 193.4L210.4 194.2M210.4 194.2L211.1 195.2M211.1 195.2L215.7 194.7M211.9 189.6L215.8 188.3M215.8 188.3L217.6 192.7M217.6 192.7L215.7 194.7M208.1 193.3L210.3 193.4M210.3 189.3L211.9 189.6M207.0 196.3L210.4 194.2M210.7 204.1L211.1 195.2M211.0 204.0L215.7 194.7M216.1 187.5L215.8 188.3M222.0 196.0L217.6 192.7M241.1 189.9L240.6 189.1M240.6 189.1L241.0 188.9M238.7 189.2L240.6 189.1M228.4 117.3L225.2 115.4M225.8 113.7L225.6 113.8M225.6 113.8L225.2 115.4M217.3 124.6L215.9 122.1M215.9 122.1L212.2 122.1M212.1 124.9L211.9 124.7M212.2 122.1L211.9 124.7M210.9 129.4L210.1 126.0M211.9 124.7L210.1 126.0M206.5 129.4L209.7 126.0M209.7 126.0L210.1 126.0M210.6 114.8L204.0 118.7M210.6 114.8L210.6 112.6M210.6 112.6L209.0 112.0M209.0 112.0L203.0 115.2M203.0 115.2L204.0 118.7M203.1 112.3L207.0 108.8M203.0 115.2L203.0 115.2M207.0 108.8L209.0 112.0M206.3 104.1L207.8 104.9M211.7 99.5L207.8 104.9M220.9 104.1L214.6 104.9M220.9 104.1L216.5 98.9M214.1 99.0L214.6 104.9M207.0 108.8L208.0 105.1M207.8 104.9L208.0 105.1M231.9 118.7L232.4 118.4M231.9 118.7L232.0 119.1M232.4 118.4L234.2 118.3M232.0 119.1L233.0 120.7M235.3 119.7L234.2 118.3M235.3 119.7L234.2 121.3M234.2 121.3L233.0 120.7M230.2 117.7L231.9 118.7M232.6 117.3L232.4 118.4M234.2 116.5L234.2 118.3M238.1 118.5L235.3 119.7M187.4 196.7L192.1 194.7M187.4 196.7L187.4 196.7M192.1 194.7L190.0 198.2M187.4 196.7L190.0 198.2M186.6 200.5L186.9 200.4M187.0 196.3L187.4 196.7M187.4 196.7L186.9 200.4M202.3 189.4L201.1 190.6M201.6 191.8L201.4 191.5M201.1 190.6L201.4 191.5M198.3 199.2L197.7 204.5M198.3 199.2L196.3 198.7M197.7 204.5L195.4 199.7M196.3 198.7L195.4 199.7M198.3 199.2L198.5 199.0M196.3 198.7L196.1 197.4M196.1 197.4L197.8 196.6M198.5 199.0L197.8 196.6M202.0 198.6L200.8 198.5M198.5 205.6L197.8 205.1M197.7 204.5L197.7 204.9M200.8 198.5L198.5 199.0M197.8 205.1L197.7 204.9M189.4 209.5L190.2 208.0M190.2 208.0L193.4 205.7M197.8 205.1L193.4 205.7M223.6 121.4L223.7 119.0M223.7 119.0L224.5 118.9M224.3 121.8L226.1 120.8M226.1 120.8L224.5 118.9M227.4 132.4L227.9 131.8M227.4 132.4L225.1 132.7M227.9 131.8L225.8 130.2M225.1 132.7L225.3 130.6M225.3 130.6L225.6 130.3M225.6 130.3L225.8 130.2M227.0 129.1L225.8 130.2M228.6 131.5L227.9 131.8M225.2 130.5L225.3 130.6M222.7 131.1L223.0 132.5M223.0 132.5L224.8 133.1M224.8 133.1L225.1 132.7M224.6 127.9L225.6 130.3M231.1 133.0L228.3 134.7M227.4 132.4L227.7 134.3M227.7 134.3L228.3 134.7M224.8 133.1L225.0 134.7M225.0 134.7L225.1 134.8M227.7 134.3L225.1 134.8M226.2 139.1L228.2 138.5M224.4 136.7L225.2 135.1M225.2 135.1L228.2 138.5M230.1 121.3L230.3 120.6M230.1 121.3L227.7 122.1M230.3 120.4L230.3 120.6M230.3 120.4L228.4 118.7M228.4 118.7L228.1 118.9M228.1 118.9L227.2 120.8M227.7 122.1L227.2 120.8M231.0 122.8L231.7 121.1M230.6 122.7L230.1 121.3M231.7 121.1L230.3 120.6M227.8 123.2L227.7 122.1M231.7 121.1L233.0 120.7M232.0 119.1L230.3 120.4M228.7 118.1L228.4 118.7M225.2 115.4L225.2 115.4M225.2 115.4L225.4 118.2M225.4 118.2L228.1 118.9M226.1 120.8L227.2 120.8M225.4 118.2L224.5 118.9M193.7 118.7L202.5 121.3M193.7 118.7L191.2 119.3M191.2 119.3L190.8 120.5M190.8 120.5L196.9 128.6M201.3 125.0L197.4 128.5M201.3 125.0L202.5 122.0M197.4 128.5L196.9 128.6M202.5 122.0L202.5 121.3M197.3 113.9L193.7 118.7M204.0 118.7L202.5 121.3M204.0 118.7L204.0 118.7M189.2 115.4L191.2 119.3M180.1 117.8L185.8 124.6M185.8 124.6L190.8 120.5M203.3 136.2L197.4 128.5M205.9 129.6L201.3 125.0M209.7 126.0L202.5 122.0M212.2 122.1L211.7 120.7M211.7 120.7L204.0 118.7M197.9 140.3L197.6 140.4M193.0 144.3L193.1 144.0M197.6 140.4L193.1 144.0M185.8 124.6L185.6 125.0M196.9 128.6L192.3 132.2M185.6 125.0L192.3 132.2M197.6 140.4L192.2 132.3M193.1 144.0L186.8 136.4M186.8 136.4L192.2 132.3M192.3 132.2L192.2 132.3M236.5 128.8L235.2 130.1M236.5 128.8L236.7 127.6M236.7 127.6L235.2 126.4M235.2 130.1L233.3 129.5M235.2 126.4L232.3 126.3M233.3 129.5L232.1 127.6M232.1 127.6L232.3 126.3M240.4 131.1L236.5 128.8M235.4 131.0L235.2 130.1M239.3 126.1L236.7 127.6M233.5 133.3L232.9 133.4M231.5 131.9L233.3 129.5M231.3 133.0L231.6 133.3M232.9 133.4L231.6 133.3M230.1 129.0L232.1 127.6M232.1 126.0L232.3 126.3M238.2 123.1L238.2 123.6M238.2 123.1L234.3 121.4M238.2 123.6L235.9 124.5M235.9 124.5L233.8 122.9M234.3 121.4L233.8 122.9M239.3 121.1L238.2 123.1M239.2 125.4L238.2 123.6M234.2 121.3L234.3 121.4M235.2 126.4L235.9 124.5M232.5 124.2L233.8 122.9M218.2 146.6L219.5 145.8M219.3 141.1L220.3 143.0M219.5 145.8L220.3 143.0M223.6 142.3L224.9 146.0M223.6 142.3L220.6 143.0M224.9 146.0L220.6 143.0M223.6 142.3L223.8 142.2M220.2 139.7L221.7 139.4M220.6 143.0L220.3 143.0M212.8 153.7L215.7 153.4M212.8 153.7L210.6 156.9M210.6 156.9L211.3 157.8M215.8 154.6L212.0 157.5M215.8 154.6L215.9 153.6M212.0 157.5L211.3 157.8M215.9 153.6L215.7 153.4M214.8 151.5L215.7 153.4M212.0 150.9L212.8 153.7M209.9 156.5L210.6 156.9M211.4 158.9L211.3 157.8M217.2 157.7L215.8 154.6M217.2 157.9L212.0 157.5M217.9 153.1L215.9 153.6M219.0 151.4L217.7 149.4M161.0 156.7L167.1 164.3M161.0 156.7L157.3 157.0M156.0 160.3L157.3 157.0M156.0 160.3L161.9 168.2M167.1 164.3L162.6 168.1M161.9 168.2L162.6 168.1M166.3 152.6L161.0 156.7M167.2 164.3L167.1 164.3M155.0 153.7L157.3 157.0M150.9 163.9L156.0 160.3M154.5 174.2L161.9 168.2M168.3 176.0L162.6 168.1M220.7 133.9L221.0 133.8M220.7 133.9L222.4 136.5M221.0 133.8L223.6 134.9M223.6 134.9L222.4 136.5M222.4 136.5L222.4 136.5M220.0 133.8L220.7 133.9M223.0 132.5L221.0 133.8M220.1 137.8L222.4 136.5M225.0 134.7L223.6 134.9M223.1 137.1L222.4 136.5M225.2 135.1L225.1 134.8M151.8 220.8L151.7 218.4M151.8 220.8L154.0 220.0M154.5 219.6L154.0 220.0M154.5 219.6L154.8 216.5M151.7 218.4L153.9 215.3M154.8 216.5L153.9 215.3M151.7 220.9L151.8 220.8M151.7 220.9L149.5 220.4M147.1 217.9L149.5 220.4M147.1 217.9L151.7 218.4M154.2 222.4L154.0 220.0M151.8 221.1L151.7 220.9M155.1 220.2L154.5 219.6M156.0 216.8L154.8 216.5M153.2 213.5L153.9 215.3M146.6 217.5L147.1 217.9M145.4 227.2L145.7 227.1M144.7 223.9L145.9 225.1M145.9 225.1L145.7 227.1M147.4 228.9L145.9 227.2M145.7 227.1L145.9 227.2M245.3 138.7L243.9 139.6M243.1 135.1L240.8 137.1M243.9 139.6L240.8 137.1M239.5 136.0L239.9 136.9M239.9 136.9L240.8 137.1M238.8 147.9L242.3 147.0M238.8 147.9L237.4 145.5M237.4 145.5L239.7 143.8M239.7 143.8L242.3 147.0M243.9 139.6L243.2 140.5M239.2 138.6L242.6 140.6M239.2 138.6L239.9 136.9M243.2 140.5L242.6 140.6M247.6 141.3L244.4 145.5M243.2 140.5L244.4 145.5M244.3 153.2L242.7 147.1M240.1 150.5L242.6 147.1M242.7 147.1L242.6 147.1M248.9 146.7L244.4 145.8M242.7 147.1L244.4 145.8M244.4 145.8L244.4 145.5M238.8 147.9L237.3 149.4M242.3 147.0L242.6 147.1M237.7 136.0L237.3 136.8M237.3 136.8L237.0 139.2M239.2 138.6L238.1 139.3M238.1 139.3L237.0 139.2M234.0 142.7L232.7 144.9M234.0 142.7L235.8 144.7M234.9 145.7L232.7 145.1M234.9 145.7L235.6 145.4M232.7 145.1L232.7 144.9M235.8 144.7L235.8 145.2M235.6 145.4L235.8 145.2M233.6 141.0L234.0 142.7M233.6 141.0L235.3 140.4M237.3 142.5L235.3 140.4M237.3 142.5L235.8 144.7M233.4 147.7L234.9 145.7M232.6 145.3L232.7 145.1M236.4 149.6L235.6 145.4M237.4 145.5L235.8 145.2M228.3 134.7L228.8 138.4M228.2 138.5L228.5 138.5M228.5 138.5L228.8 138.4M235.5 135.1L235.0 136.0M237.3 136.8L235.3 136.7M235.0 136.0L235.3 136.7M232.9 133.4L234.1 136.0M235.0 136.0L234.1 136.0M235.9 139.6L237.0 139.2M235.9 139.6L235.2 137.9M235.2 137.9L235.3 136.7M217.8 120.3L218.5 119.5M217.8 120.3L218.8 122.3M218.5 119.5L220.9 120.4M218.8 122.3L219.8 122.6M219.8 122.6L221.4 121.3M221.4 121.3L220.9 120.4M217.5 124.6L218.8 122.3M215.9 122.1L217.5 120.5M217.5 120.5L217.8 120.3M220.2 124.0L219.8 122.6M222.1 121.8L221.4 121.3M223.7 119.0L222.6 118.2M222.6 118.2L220.9 120.4M222.6 118.2L222.4 117.6M225.2 115.4L223.7 115.9M222.4 117.6L223.7 115.9M224.0 110.5L222.4 111.0M225.6 113.8L224.4 113.4M222.4 111.0L224.4 113.4M208.0 105.1L211.6 106.4M214.6 104.9L213.3 106.1M213.3 106.1L211.6 106.4M210.6 112.6L211.8 111.6M211.6 106.4L211.8 111.6M186.9 200.4L187.0 200.4M187.0 200.4L189.7 199.6M190.0 198.2L190.4 199.0M189.7 199.6L190.4 199.0M200.8 184.2L198.5 188.2M201.1 190.6L198.9 188.9M198.5 188.2L198.9 188.9M190.9 184.2L194.9 188.8M198.5 188.2L194.9 188.8M201.4 191.5L198.1 192.5M198.9 188.9L198.1 192.5M195.4 199.7L194.4 199.6M195.3 196.9L194.0 198.0M195.3 196.9L196.1 197.4M194.4 199.6L194.0 198.0M231.5 136.5L232.8 136.8M231.5 136.5L229.4 138.3M229.4 138.3L233.4 141.0M233.2 137.4L232.8 136.8M233.2 137.4L233.5 141.0M233.5 141.0L233.4 141.0M231.6 133.3L231.5 136.5M234.1 136.0L232.8 136.8M228.8 138.4L229.4 138.3M235.2 137.9L233.2 137.4M233.6 141.0L233.5 141.0M235.3 140.4L235.9 139.6M180.2 128.7L181.2 128.7M180.2 128.7L175.5 132.5M181.2 128.7L186.3 136.5M175.5 132.5L181.6 140.5M181.6 140.5L186.3 136.5M178.8 126.7L180.2 128.7M185.6 125.0L181.2 128.7M175.0 132.5L175.5 132.5M186.8 136.4L186.3 136.5M181.6 140.7L181.6 140.5M221.8 149.7L225.9 146.8M221.8 149.7L220.8 146.8M220.8 146.8L225.4 146.6M225.9 146.8L225.4 146.6M221.7 151.3L221.8 149.7M226.2 146.9L226.0 146.8M226.0 146.8L225.9 146.8M219.5 145.8L220.8 146.8M224.9 146.0L225.4 146.6M225.8 142.6L226.0 146.8M147.3 222.6L147.5 222.7M145.9 225.1L148.0 224.6M148.0 224.6L147.5 222.7M149.5 220.4L148.9 222.2M147.5 222.7L148.9 222.2M151.6 223.0L149.7 223.1M149.7 223.1L148.9 222.2M150.3 225.1L148.8 224.7M150.3 225.1L150.0 228.6M150.0 228.6L148.4 226.3M148.4 226.3L148.3 224.8M148.8 224.7L148.3 224.8M152.3 224.3L150.3 225.1M149.7 223.1L148.8 224.7M150.4 229.5L150.0 228.6M145.9 227.2L148.4 226.3M148.0 224.6L148.3 224.8M240.8 141.7L239.6 143.6M240.8 141.7L238.7 140.4M238.7 140.4L237.8 142.6M239.6 143.6L237.8 142.6M239.7 143.8L239.6 143.6M242.6 140.6L240.8 141.7M238.1 139.3L238.7 140.4M237.3 142.5L237.8 142.6M231.2 142.6L228.6 141.1M231.2 142.6L230.8 143.9M230.4 144.2L228.5 144.0M230.4 144.2L230.8 143.9M228.5 144.0L228.0 142.3M228.0 142.3L228.6 141.1M228.5 138.5L228.6 141.1M233.4 141.0L231.2 142.6M232.7 144.9L230.8 143.9M226.2 146.9L228.5 144.0M230.4 147.2L230.4 144.2M225.9 142.6L228.0 142.3M213.3 106.1L215.1 108.2M215.1 108.2L215.2 111.1M211.8 111.6L213.4 111.9M213.4 111.9L215.2 111.1M217.5 120.5L214.1 118.8M218.4 119.0L218.5 119.5M218.4 119.0L217.0 117.5M217.0 117.5L215.2 117.8M215.2 117.8L214.1 118.8M211.7 120.7L212.6 119.2M210.6 114.8L212.1 116.0M212.6 119.2L212.1 116.0M212.6 119.2L214.1 118.8M218.4 119.0L220.3 116.8M222.4 117.6L220.4 116.8M220.3 116.8L220.4 116.8M223.7 115.9L222.1 114.5M220.4 116.8L222.1 114.5M224.4 113.4L221.8 113.7M222.1 114.5L221.8 113.7M190.2 208.0L189.0 203.6M193.4 205.7L192.7 204.4M192.7 204.4L190.8 203.1M190.8 203.1L189.0 203.6M187.0 200.4L188.6 202.5M189.7 199.6L189.6 201.6M189.6 201.6L188.6 202.5M186.0 204.3L188.7 203.3M188.6 202.5L188.7 203.3M189.0 203.6L188.7 203.3M188.8 191.8L192.3 193.4M194.9 188.8L194.7 189.6M194.7 189.6L192.3 193.4M192.1 194.7L192.1 194.6M192.1 194.6L192.5 193.9M192.3 193.4L192.5 193.9M190.8 203.1L191.3 202.3M189.6 201.6L190.9 201.4M191.3 202.3L190.9 201.4M192.7 204.4L192.6 202.2M191.3 202.3L192.6 202.2M197.7 204.9L193.2 201.3M192.6 202.2L193.2 201.3M213.4 111.9L214.2 113.8M212.1 116.0L213.6 115.4M214.2 113.8L213.6 115.4M215.2 117.8L214.8 115.8M213.6 115.4L214.8 115.8M217.0 117.5L217.1 116.2M220.3 116.8L219.0 114.6M219.0 114.6L217.1 116.2M214.2 113.8L216.0 113.9M214.8 115.8L215.9 115.4M216.0 113.9L215.9 115.4M215.2 111.1L217.7 112.2M216.0 113.9L217.7 112.2M217.1 116.2L215.9 115.4M220.3 112.2L219.1 112.3M220.3 112.2L222.2 111.0M222.2 111.0L221.8 104.2M218.8 111.0L220.1 106.4M218.8 111.0L218.9 112.1M220.1 106.4L221.3 104.3M218.9 112.1L219.1 112.3M221.8 104.2L221.3 104.3M221.8 113.7L220.3 112.2M219.0 114.6L219.1 112.3M222.4 111.0L222.2 111.0M222.8 103.9L221.8 104.2M216.4 108.4L218.8 111.0M216.4 108.4L220.1 106.4M215.1 108.2L216.4 108.4M217.7 112.2L218.9 112.1M220.9 104.1L221.3 104.3M192.1 194.6L192.8 197.6M195.3 196.9L194.8 195.3M192.8 197.6L194.0 198.0M192.5 193.9L194.1 194.6M194.8 195.3L194.1 194.6M194.7 189.6L197.4 192.9M194.1 194.6L197.4 192.9M198.1 192.5L197.6 193.0M197.6 193.0L197.4 192.9M193.2 200.4L191.8 198.9M193.2 200.4L193.1 200.8M193.1 200.8L191.0 201.1M191.0 201.1L190.5 199.0M190.5 199.0L191.8 198.9M194.4 199.6L193.2 200.4M192.8 197.6L191.8 198.9M193.2 201.3L193.1 200.8M190.9 201.4L191.0 201.1M190.4 199.0L190.5 199.0M197.9 193.6L198.7 195.9M197.9 193.6L197.9 193.6M197.9 193.6L196.7 195.2M196.7 195.2L197.8 196.6M197.8 196.6L198.5 196.1M198.7 195.9L198.5 196.1M200.6 195.2L198.7 195.9M199.5 193.7L197.9 193.6M197.6 193.0L197.9 193.6M194.8 195.3L196.7 195.2M197.8 196.6L197.8 196.6M200.8 198.5L198.5 196.1M198.0 168.6L214.6 162.5M214.6 162.5L216.1 180.6M216.1 180.6L207.0 183.6M207.0 183.6L199.5 179.1M199.5 179.1L198.0 168.6M190.5 210.6L232.6 197.1M232.6 197.1L246.1 204.6M246.1 204.6L229.6 215.2M229.6 215.2L208.6 222.7M208.6 222.7L193.5 219.7M193.5 219.7L190.5 210.6M160.0 150.0L161.0 128.0M161.0 128.0L175.0 116.0M175.0 116.0L182.0 122.0M182.0 122.0L170.0 140.0M170.0 140.0L165.0 150.0M165.0 150.0L160.0 150.0" fill="none"/>
</defs>
<use href="#outl" fill="#565656"/>
<g clip-path="url(#clipA)">
<polygon points="57.1,45.5 62.1,44.3 65.8,45.5 69.5,48.0 72.6,48.6 78.2,46.8 80.0,45.9 84.4,46.8 91.1,47.4 99.8,47.4 110.9,46.8 120.8,46.2 128.3,49.3 137.0,53.0 140.0,53.6 149.3,54.2 157.3,54.2 166.5,52.9 174.5,50.9 179.8,49.6 185.8,47.9 193.1,44.3 199.7,40.3 204.4,38.3 207.0,39.6 210.4,45.6 212.3,50.9 215.0,56.2 215.7,58.2 215.2,80.0 214.3,88.0 213.7,97.8 207.3,101.0 201.0,103.6 194.6,105.5 186.9,106.8 180.6,108.7 175.5,111.2 169.1,114.4 162.7,117.6 156.4,118.9 151.4,117.9 146.3,116.0 141.2,112.8 134.9,107.7 131.0,103.9 129.8,104.6 117.0,136.4 119.6,139.0 119.5,140.4 117.4,144.1 115.2,147.3 113.1,151.6 108.9,155.8 102.5,161.1 96.1,166.4 91.9,171.7 89.2,177.1 86.6,178.1 83.4,176.5 75.9,177.1 72.7,173.9 68.5,169.6 64.2,166.4 60.1,162.7 54.8,157.4 49.5,153.4 44.2,149.4 36.2,144.1 29.6,141.5 25.0,140.8 24.3,134.8 22.3,130.8 19.0,124.2 18.3,116.2 19.6,109.6 21.0,103.0 21.5,99.0 21.8,94.5 21.8,90.8 21.2,87.0 22.4,82.1 24.9,77.1 26.2,69.7 27.4,67.2 31.1,66.6 34.8,64.7 39.8,61.6 42.9,58.5 44.1,56.3 46.0,56.7 47.8,58.5 52.2,56.7 54.7,53.6 55.9,48.6" fill="#d2d2d2" stroke="#505050" stroke-width="0.8" />
<use href="#llines"/>
<polygon points="85.2,102.0 129.8,104.6 131.0,103.9 134.9,107.7 126.0,135.8 120.6,137.7 119.5,136.7 102.5,134.6 82.0,132.6 81.8,125.0" fill="#565656" stroke="#333" stroke-width="0.7" />
<polygon points="190.2,61.2 215.7,58.2 215.2,80.0 214.3,87.6 194.4,94.1 191.8,74.8" fill="#565656" stroke="#333" stroke-width="0.7" />
<polygon points="38.5,79.0 41.6,79.0 41.6,84.0 44.7,84.6 47.8,85.2 49.7,87.7 51.6,89.5 54.7,90.1 55.9,92.0 55.9,95.7 54.0,97.6 54.0,101.9 50.9,102.5 47.2,102.5 43.5,102.5 41.0,100.7 40.4,97.0 35.4,96.3 30.5,95.7 29.3,92.0 30.5,88.3 32.3,84.6 35.4,84.0 38.5,84.0" fill="#565656" stroke="#333" stroke-width="0.7" />
<polyline points="41.6,84.0 45.0,92.0 48.0,102.5" fill="none" stroke="#2e2e2e" stroke-width="0.6"/>
<polyline points="35.4,84.0 40.4,97.0" fill="none" stroke="#2e2e2e" stroke-width="0.6"/>
<polyline points="47.8,85.2 50.0,96.0 54.0,97.6" fill="none" stroke="#2e2e2e" stroke-width="0.6"/>
<polyline points="30.5,90.0 44.0,92.0 55.9,93.5" fill="none" stroke="#2e2e2e" stroke-width="0.6"/>
<polyline points="44.0,97.0 54.0,99.5" fill="none" stroke="#2e2e2e" stroke-width="0.6"/>
<use href="#clines"/>
<use href="#tex" stroke="rgba(0,0,0,0.68)" stroke-width="0.65"/>
</g>
<use href="#outl" fill="none" stroke="#404040" stroke-width="0.8"/>
<use href="#outl" fill="#e2e2e2" transform="matrix(0.983 0 0 0.986 256 2.8)"/>
<g clip-path="url(#clipB)">
<polygon points="440.0,109.3 451.9,108.3 459.8,105.1 467.8,101.9 477.3,100.3 483.7,86.8 506.0,86.8 510.0,100.0 510.0,215.0 490.0,222.0 470.0,228.0 445.0,240.0 420.0,250.0 400.0,262.0 380.0,280.0 355.0,280.0 355.0,255.0 372.0,240.0 380.0,222.0 384.0,205.0 384.0,185.0 388.0,172.0 392.0,162.0 397.0,154.0 402.6,152.3 407.3,150.0 413.7,150.7 419.3,153.9 416.9,149.2 420.1,142.8 426.5,136.4 422.5,133.2 426.5,122.1 429.6,114.1" fill="#565656" stroke="none" stroke-width="0.8" />
<polygon points="313.0,51.6 323.5,69.0 317.3,100.0 311.1,100.0 312.4,65.3" fill="#a3a3a3" stroke="#505050" stroke-width="0.6" />
<polygon points="358.7,50.1 374.6,48.5 391.3,55.7 374.6,97.1 383.4,105.1 381.0,111.5 369.0,106.7 352.3,105.1 350.7,82.8 347.5,70.0" fill="#a3a3a3" stroke="#505050" stroke-width="0.6" />
<polygon points="268.0,62.0 300.0,55.0 313.0,46.0 313.0,64.5 297.5,64.7 296.9,75.2 287.1,78.3 286.3,69.6 283.9,68.8 268.0,76.0" fill="#a3a3a3" stroke="#505050" stroke-width="0.6" />
<polygon points="270.0,98.0 298.3,99.8 323.7,101.4 324.5,120.5 309.4,118.9 293.5,119.7 291.9,111.0 270.0,111.0" fill="#a3a3a3" stroke="#505050" stroke-width="0.6" />
<polygon points="325.3,101.8 340.3,103.3 336.5,134.1 336.5,140.9 326.0,140.9 326.8,122.8 325.3,120.0" fill="#a3a3a3" stroke="#505050" stroke-width="0.6" />
<polygon points="336.5,134.1 371.1,137.1 374.1,140.1 363.6,152.1 351.6,165.7 342.6,177.7 335.0,173.2 335.8,155.2" fill="#a3a3a3" stroke="#505050" stroke-width="0.6" />
<polygon points="381.9,110.9 388.2,112.5 379.5,118.1 376.3,122.9 380.3,130.0 377.9,133.2 373.1,124.5 375.5,117.3" fill="#a3a3a3" stroke="#505050" stroke-width="0.6" />
<polygon points="471.0,47.0 476.0,36.0 480.0,36.0 485.3,46.1 485.3,50.9 492.5,48.5 496.5,53.3 486.9,60.5 481.3,53.3 470.2,55.7" fill="#a3a3a3" stroke="#505050" stroke-width="0.6" />
<polygon points="467.8,88.4 483.7,86.8 477.3,100.3 467.8,101.9" fill="#a3a3a3" stroke="#505050" stroke-width="0.6" />
<polygon points="424.0,117.0 440.7,117.8 442.3,125.0 435.9,127.7 429.6,132.5 422.5,133.2" fill="#a3a3a3" stroke="#505050" stroke-width="0.6" />
<polygon points="458.2,130.1 462.2,124.6 466.2,130.1" fill="#a3a3a3" stroke="#505050" stroke-width="0.6" />
<polygon points="442.0,215.0 444.8,220.6 440.6,224.8 435.0,231.8 428.0,236.1 416.8,238.9 415.4,233.3 426.6,229.0 435.0,222.0" fill="#a3a3a3" stroke="#505050" stroke-width="0.6" />
<polygon points="394.5,233.4 403.4,231.6 415.8,233.4 416.8,240.3 400.0,241.7 398.1,241.3 394.5,245.8 392.8,242.2" fill="#a3a3a3" stroke="#505050" stroke-width="0.6" />
<polygon points="383.0,186.0 391.0,185.6 398.1,183.8 401.6,189.2 398.1,196.2 401.6,203.3 398.1,209.5 391.9,213.0 383.0,212.0" fill="#a3a3a3" stroke="#505050" stroke-width="0.6" />
<polygon points="401.6,201.5 414.9,189.2 415.8,192.7 405.1,207.7" fill="#a3a3a3" stroke="#505050" stroke-width="0.6" />
<polygon points="397.8,155.5 402.6,165.1 396.2,185.0 385.0,185.0 388.0,170.0 393.0,160.0" fill="#a3a3a3" stroke="#505050" stroke-width="0.6" />
<polygon points="323.5,69.0 330.3,80.1 327.2,91.3 324.8,100.0 317.3,100.0" fill="#565656" stroke="#333" stroke-width="0.6" />
<polygon points="334.7,48.5 334.0,44.0 359.0,44.0 358.7,50.1 347.5,70.0" fill="#565656" stroke="#333" stroke-width="0.6" />
<polygon points="297.5,64.7 312.4,64.0 312.4,86.3 310.2,93.5 309.4,99.8 308.6,104.6 295.9,103.8 293.5,98.2 278.4,97.4 276.8,91.9 277.6,83.9 281.5,79.1 283.1,71.9 283.9,68.8 286.3,69.6 287.1,78.3 295.1,77.5 296.9,75.2" fill="#565656" stroke="#333" stroke-width="0.6" />
<polygon points="403.3,56.5 410.4,56.5 412.0,82.8 412.9,107.7 416.1,117.3 408.9,118.9 397.8,115.7 388.2,112.5 381.9,110.9 383.5,106.1 385.0,105.1 385.0,87.6 387.3,85.2 403.3,82.8" fill="#565656" stroke="#333" stroke-width="0.6" />
<polygon points="439.1,50.9 457.4,40.6 463.0,47.7 468.6,59.7 443.1,62.9 439.9,56.5" fill="#565656" stroke="#333" stroke-width="0.6" />
<polygon points="293.5,80.5 296.0,80.0 297.0,84.5 304.6,85.5 306.5,91.0 301.0,92.0 295.5,89.5 294.0,85.0" fill="#a3a3a3" stroke="#505050" stroke-width="0.6" />
<use href="#llines" transform="matrix(0.983 0 0 0.986 256 2.8)"/>
<use href="#clines" transform="matrix(0.983 0 0 0.986 256 2.8)"/>
<use href="#tex" transform="matrix(0.983 0 0 0.986 256 2.8)" stroke="rgba(0,0,0,0.5)" stroke-width="0.6"/>
<polygon points="442.0,213.6 447.6,208.0 456.1,204.5 461.7,200.3 471.5,197.5 482.7,198.2 488.3,210.1 478.5,215.0 470.1,219.2 463.1,222.7 460.3,220.6 453.3,217.1 447.6,217.1 444.8,217.8" fill="#e2e2e2" stroke="#505050" stroke-width="0.6" />
<polygon points="385.0,209.0 391.9,209.5 398.1,208.6 411.3,214.8 398.1,224.5 391.9,219.2 385.0,220.0" fill="#e2e2e2" stroke="#505050" stroke-width="0.6" />
<polyline points="449.7,188.4 454.7,184.9 454.0,189.8 461.7,196.8" fill="none" stroke="#fff" stroke-width="1.4"/>
<ellipse cx="468" cy="111.5" rx="1.8" ry="1" fill="#fff"/>
</g>
<use href="#outl" fill="none" stroke="#404040" stroke-width="0.8" transform="matrix(0.983 0 0 0.986 256 2.8)"/>
<use href="#outl" fill="#d2d2d2" transform="matrix(1.022 0 0 1.022 514.2 -1.6)"/>
<g clip-path="url(#clipC)">
<g transform="matrix(1.022 0 0 1.022 514.2 -1.6)"><polygon points="235.2,117.4 239.6,116.5 239.7,114.6 237.3,114.6 237.0,114.7 235.6,115.5" fill="#8a8a8a" stroke="none" stroke-width="0.8" /><polygon points="237.8,137.0 240.3,138.9 241.2,135.5 241.2,135.4 238.6,134.7 237.9,135.8" fill="#989898" stroke="none" stroke-width="0.8" /><polygon points="214.0,135.3 216.1,134.5 216.1,134.2 216.2,133.5 213.8,134.1 213.8,135.1" fill="#8a8a8a" stroke="none" stroke-width="0.8" /><polygon points="219.5,129.6 222.9,130.6 223.2,130.2 223.3,128.0 222.4,127.2 220.2,127.2 219.5,128.7 219.4,129.4" fill="#6e6e6e" stroke="none" stroke-width="0.8" /><polygon points="237.5,104.5 236.5,105.2 235.7,109.3 239.3,109.8 240.5,108.9 240.5,108.8 239.5,106.6 238.3,104.5 238.3,104.5" fill="#6e6e6e" stroke="none" stroke-width="0.8" /><polygon points="232.4,146.0 237.9,148.8 239.9,144.0 239.8,143.4 239.4,142.3 238.6,142.1 232.3,144.7 232.2,145.0" fill="#989898" stroke="none" stroke-width="0.8" /><polygon points="230.4,136.7 234.1,134.9 234.2,134.7 234.3,134.1 232.9,131.9 232.1,131.6 231.4,131.4 229.8,134.2 229.8,136.5" fill="#5e5e5e" stroke="none" stroke-width="0.8" /><polygon points="228.8,123.1 228.7,122.9 226.2,124.6 227.4,126.4" fill="#989898" stroke="none" stroke-width="0.8" /><polygon points="238.6,121.8 235.5,121.5 235.6,122.5 238.5,126.9 238.6,127.0 240.5,124.6 240.4,122.7" fill="#989898" stroke="none" stroke-width="0.8" /><polygon points="221.0,114.9 219.7,114.5 217.1,117.0 217.6,117.4 220.2,117.7 221.4,116.9" fill="#7c7c7c" stroke="none" stroke-width="0.8" /><polygon points="214.3,129.5 213.8,130.5 213.8,133.7 216.3,131.4 215.8,130.5" fill="#6e6e6e" stroke="none" stroke-width="0.8" /><polygon points="225.0,152.5 225.2,154.4 227.6,155.8 228.1,155.3 228.5,154.8 228.0,151.1 227.7,150.6 227.6,150.6" fill="#6e6e6e" stroke="none" stroke-width="0.8" /><polygon points="234.2,134.7 234.1,134.9 234.3,139.1 235.6,139.3 236.4,137.9 235.5,135.6" fill="#6e6e6e" stroke="none" stroke-width="0.8" /><polygon points="231.4,131.4 230.7,130.4 229.1,130.1 227.7,130.1 226.8,130.8 226.8,132.7 229.8,134.2" fill="#7c7c7c" stroke="none" stroke-width="0.8" /><polygon points="232.8,125.5 232.7,125.6 237.8,127.2 238.5,126.9 235.6,122.5" fill="#7c7c7c" stroke="none" stroke-width="0.8" /><polygon points="228.6,158.3 229.1,159.4 230.0,159.4 231.5,158.9 233.0,158.2 233.3,158.0 233.2,157.9 231.7,157.7" fill="#7c7c7c" stroke="none" stroke-width="0.8" /><polygon points="224.1,118.5 221.2,122.3 221.5,122.5 226.7,121.2 227.5,120.7" fill="#b0b0b0" stroke="none" stroke-width="0.8" /><polygon points="226.3,99.6 225.8,99.7 225.7,100.2 226.2,105.3 228.8,102.8 228.3,101.2 227.4,99.9" fill="#989898" stroke="none" stroke-width="0.8" /><polygon points="222.7,123.9 221.5,122.5 221.2,122.3 220.1,122.2 217.6,123.2 217.4,123.4 218.4,124.7 222.3,125.9" fill="#8a8a8a" stroke="none" stroke-width="0.8" /><polygon points="242.5,127.7 241.8,128.3 242.7,129.3 244.0,129.5 244.0,128.5 244.0,127.2" fill="#b0b0b0" stroke="none" stroke-width="0.8" /><polygon points="219.5,128.7 216.9,126.9 217.9,129.3 219.4,129.4" fill="#6e6e6e" stroke="none" stroke-width="0.8" /><polygon points="229.1,130.1 230.7,130.4 231.7,127.5 229.9,126.6 229.2,126.8" fill="#6e6e6e" stroke="none" stroke-width="0.8" /><polygon points="232.2,123.3 229.6,123.7 232.6,125.7 232.7,125.6 232.8,125.5" fill="#8a8a8a" stroke="none" stroke-width="0.8" /><polygon points="215.7,145.7 215.7,145.8 216.5,148.2 217.0,149.2 217.3,149.1 216.3,145.6" fill="#5e5e5e" stroke="none" stroke-width="0.8" /><polygon points="219.2,146.9 216.6,145.4 216.3,145.6 217.3,149.1 218.0,150.1 218.1,150.1 220.3,149.5" fill="#5e5e5e" stroke="none" stroke-width="0.8" /><polygon points="237.3,114.6 239.7,114.6 239.8,114.4 239.3,109.8 235.7,109.3 235.3,109.5" fill="#7c7c7c" stroke="none" stroke-width="0.8" /><polygon points="223.1,157.3 222.9,155.2 221.3,154.4 220.4,154.9 221.2,155.8 222.6,157.1 222.9,157.4" fill="#7c7c7c" stroke="none" stroke-width="0.8" /><polygon points="238.7,129.5 238.7,127.0 238.6,127.0 238.5,126.9 237.8,127.2 236.0,128.4 235.2,130.5 237.2,132.2" fill="#989898" stroke="none" stroke-width="0.8" /><polygon points="234.5,128.3 232.0,127.2 231.7,127.5 230.7,130.4 231.4,131.4 232.1,131.6" fill="#8a8a8a" stroke="none" stroke-width="0.8" /><polygon points="233.6,103.9 236.5,105.2 237.5,104.5 236.7,102.6 235.9,101.8" fill="#7c7c7c" stroke="none" stroke-width="0.8" /><polygon points="233.3,110.5 233.3,109.9 232.3,109.4 230.1,110.7 228.8,112.0 228.8,112.0 228.8,112.2 229.3,115.3 230.4,116.8 233.2,113.7" fill="#7c7c7c" stroke="none" stroke-width="0.8" /><polygon points="223.4,154.8 222.9,155.2 223.1,157.3 223.9,157.7 225.0,157.7 227.3,157.0 227.6,155.8 225.2,154.4" fill="#6e6e6e" stroke="none" stroke-width="0.8" /><polygon points="226.8,130.8 223.2,130.2 222.9,130.6 222.5,131.9 226.6,133.0 226.8,132.7" fill="#5e5e5e" stroke="none" stroke-width="0.8" /><polygon points="235.5,135.6 236.4,137.9 237.8,137.0 237.9,135.8" fill="#6e6e6e" stroke="none" stroke-width="0.8" /><polygon points="228.2,99.5 231.2,98.6 231.6,98.3 231.6,98.1 231.5,98.1 230.0,97.6 229.2,97.6" fill="#8a8a8a" stroke="none" stroke-width="0.8" /><polygon points="228.0,151.1 228.5,154.8 231.7,154.5 231.8,152.8 228.2,151.2" fill="#6e6e6e" stroke="none" stroke-width="0.8" /><polygon points="215.3,112.3 214.8,113.9 214.8,114.1 214.9,114.0 215.7,113.1" fill="#7c7c7c" stroke="none" stroke-width="0.8" /><polygon points="222.2,146.9 223.3,145.4 220.7,142.8 217.4,144.1 216.6,145.4 219.2,146.9" fill="#5e5e5e" stroke="none" stroke-width="0.8" /><polygon points="225.2,126.8 223.3,128.0 223.2,130.2 226.8,130.8 227.7,130.1 226.9,127.1" fill="#989898" stroke="none" stroke-width="0.8" /><polygon points="225.1,145.6 226.0,147.8 232.3,146.2 232.4,146.0 232.2,145.0 226.6,144.6 225.4,145.3" fill="#6e6e6e" stroke="none" stroke-width="0.8" /><polygon points="220.7,142.8 220.9,142.2 217.1,137.8 216.7,138.0 215.3,139.6 217.4,144.1" fill="#6e6e6e" stroke="none" stroke-width="0.8" /><polygon points="242.5,127.7 244.0,127.2 243.9,125.5 243.9,125.2" fill="#989898" stroke="none" stroke-width="0.8" /><polygon points="237.3,114.6 235.3,109.5 233.3,109.9 233.3,110.5 237.0,114.7" fill="#7c7c7c" stroke="none" stroke-width="0.8" /><polygon points="231.1,106.6 226.0,106.8 225.5,107.8 230.1,110.7 232.3,109.4" fill="#989898" stroke="none" stroke-width="0.8" /><polygon points="228.1,155.3 227.6,155.8 227.3,157.0 227.4,157.3 228.6,158.3 231.7,157.7" fill="#8a8a8a" stroke="none" stroke-width="0.8" /><polygon points="215.1,117.0 214.2,116.7 213.8,118.8 213.8,124.1 214.4,124.5 215.0,124.4 216.7,123.6" fill="#8a8a8a" stroke="none" stroke-width="0.8" /><polygon points="220.7,135.3 221.5,135.3 222.5,131.9 222.9,130.6 219.5,129.6 218.3,132.7" fill="#5e5e5e" stroke="none" stroke-width="0.8" /><polygon points="231.7,127.5 232.0,127.2 232.6,125.7 229.6,123.7 229.4,123.6 229.9,126.6" fill="#7c7c7c" stroke="none" stroke-width="0.8" /><polygon points="216.2,133.5 216.1,134.2 219.7,135.9 220.7,135.3 218.3,132.7 217.2,132.4" fill="#7c7c7c" stroke="none" stroke-width="0.8" /><polygon points="231.6,98.3 232.0,98.3 231.6,98.1" fill="#989898" stroke="none" stroke-width="0.8" /><polygon points="223.9,157.7 223.1,157.3 222.9,157.4 223.8,158.0" fill="#7c7c7c" stroke="none" stroke-width="0.8" /><polygon points="234.4,99.9 234.5,100.0 234.4,99.9 234.3,99.8" fill="#8a8a8a" stroke="none" stroke-width="0.8" /><polygon points="225.0,157.7 223.9,157.7 223.8,158.0 224.0,158.2 225.1,158.7" fill="#5e5e5e" stroke="none" stroke-width="0.8" /><polygon points="227.7,150.6 231.9,147.5 232.3,146.2 226.0,147.8 226.2,148.9 227.6,150.6" fill="#7c7c7c" stroke="none" stroke-width="0.8" /><polygon points="240.4,131.8 238.0,133.6 238.6,134.7 241.2,135.4 241.3,135.2 241.4,132.2" fill="#7c7c7c" stroke="none" stroke-width="0.8" /><polygon points="228.2,151.2 231.8,152.8 232.0,152.4 231.5,151.0" fill="#6e6e6e" stroke="none" stroke-width="0.8" /><polygon points="225.5,114.3 225.9,115.2 229.3,115.3 228.8,112.2" fill="#989898" stroke="none" stroke-width="0.8" /><polygon points="236.4,137.9 235.6,139.3 238.6,142.1 239.4,142.3 240.5,140.6 240.3,138.9 237.8,137.0" fill="#7c7c7c" stroke="none" stroke-width="0.8" /><polygon points="224.2,99.4 225.8,99.7 226.3,99.6 226.5,97.8 225.5,98.1 224.0,98.8 223.8,98.9" fill="#b0b0b0" stroke="none" stroke-width="0.8" /><polygon points="225.5,107.8 224.9,108.6 228.8,112.0 230.1,110.7" fill="#8a8a8a" stroke="none" stroke-width="0.8" /><polygon points="217.3,149.1 217.0,149.2 217.5,150.4 217.6,150.5 218.0,150.1" fill="#8a8a8a" stroke="none" stroke-width="0.8" /><polygon points="232.7,139.7 234.3,139.1 234.1,134.9 230.4,136.7" fill="#8a8a8a" stroke="none" stroke-width="0.8" /><polygon points="226.2,124.6 228.7,122.9 228.3,120.7 227.5,120.7 226.7,121.2 224.5,124.3 224.8,124.8" fill="#8a8a8a" stroke="none" stroke-width="0.8" /><polygon points="222.5,131.9 221.5,135.3 222.3,135.9 222.6,135.9 226.3,133.6 226.6,133.0" fill="#6e6e6e" stroke="none" stroke-width="0.8" /><polygon points="215.1,139.7 214.0,139.2 214.2,140.4 214.2,140.6" fill="#7c7c7c" stroke="none" stroke-width="0.8" /><polygon points="221.5,101.1 224.2,99.4 223.8,98.9 222.6,99.9 221.4,100.9" fill="#6e6e6e" stroke="none" stroke-width="0.8" /><polygon points="237.1,132.9 238.0,133.6 240.4,131.8 238.7,129.5 237.2,132.2" fill="#7c7c7c" stroke="none" stroke-width="0.8" /><polygon points="228.7,137.0 227.1,139.3 229.2,140.2 229.0,136.9" fill="#5e5e5e" stroke="none" stroke-width="0.8" /><polygon points="233.6,103.9 232.9,104.0 231.3,105.5 231.1,106.6 232.3,109.4 233.3,109.9 235.3,109.5 235.7,109.3 236.5,105.2" fill="#b0b0b0" stroke="none" stroke-width="0.8" /><polygon points="234.4,154.6 233.1,155.5 233.2,157.9 233.3,158.0 234.4,157.1 235.8,155.8 236.0,155.6" fill="#6e6e6e" stroke="none" stroke-width="0.8" /><polygon points="241.3,135.2 241.2,135.4 241.2,135.5 243.3,137.4 243.7,134.8" fill="#8a8a8a" stroke="none" stroke-width="0.8" /><polygon points="215.7,113.1 214.9,114.0 217.5,114.4 218.2,113.2 217.9,112.0" fill="#6e6e6e" stroke="none" stroke-width="0.8" /><polygon points="220.2,117.7 217.6,117.4 217.6,123.2 220.1,122.2" fill="#989898" stroke="none" stroke-width="0.8" /><polygon points="240.4,119.1 240.1,118.6 239.8,118.4 235.0,120.4 235.5,121.5 238.6,121.8" fill="#8a8a8a" stroke="none" stroke-width="0.8" /><polygon points="226.9,127.1 227.7,130.1 229.1,130.1 229.2,126.8 227.3,126.7" fill="#6e6e6e" stroke="none" stroke-width="0.8" /><polygon points="235.9,101.8 236.7,102.6 236.9,102.4 235.8,101.2" fill="#989898" stroke="none" stroke-width="0.8" /><polygon points="215.7,145.7 215.6,145.7 215.6,145.7 215.7,145.8" fill="#b0b0b0" stroke="none" stroke-width="0.8" /><polygon points="242.7,129.3 242.1,131.7 243.9,132.4 243.9,131.5 244.0,129.5" fill="#989898" stroke="none" stroke-width="0.8" /><polygon points="225.7,100.2 225.8,99.7 224.2,99.4 221.5,101.1 220.7,101.8 220.5,102.0 220.8,102.9 222.4,104.5 223.7,104.6" fill="#8a8a8a" stroke="none" stroke-width="0.8" /><polygon points="240.5,140.6 239.4,142.3 239.8,143.4 242.2,143.1 242.8,140.4 242.9,140.1" fill="#6e6e6e" stroke="none" stroke-width="0.8" /><polygon points="218.1,111.5 215.9,110.4 215.6,111.3 215.3,112.3 215.7,113.1 217.9,112.0" fill="#6e6e6e" stroke="none" stroke-width="0.8" /><polygon points="226.4,140.1 226.3,140.3 227.7,141.7 229.5,141.3 229.2,140.2 227.1,139.3" fill="#b0b0b0" stroke="none" stroke-width="0.8" /><polygon points="222.7,113.0 221.6,109.0 220.2,108.7 219.8,109.0 219.2,110.7 222.2,113.1" fill="#7c7c7c" stroke="none" stroke-width="0.8" /><polygon points="226.2,105.3 225.7,100.2 223.7,104.6 225.8,106.3" fill="#6e6e6e" stroke="none" stroke-width="0.8" /><polygon points="240.5,140.6 242.9,140.1 243.3,137.5 243.3,137.4 241.2,135.5 240.3,138.9" fill="#989898" stroke="none" stroke-width="0.8" /><polygon points="239.3,109.8 239.8,114.4 240.5,114.4 241.8,112.8 241.4,111.3 240.5,108.9" fill="#8a8a8a" stroke="none" stroke-width="0.8" /><polygon points="217.6,123.2 217.6,117.4 217.1,117.0 217.0,117.0 215.1,117.0 216.7,123.6 217.4,123.4" fill="#8a8a8a" stroke="none" stroke-width="0.8" /><polygon points="222.6,135.9 222.3,135.9 222.3,140.2 224.8,140.9 226.3,140.3 226.4,140.1 224.5,136.7" fill="#7c7c7c" stroke="none" stroke-width="0.8" /><polygon points="219.5,128.7 220.2,127.2 218.4,124.7 217.4,123.4 216.7,123.6 215.0,124.4 216.9,126.9" fill="#7c7c7c" stroke="none" stroke-width="0.8" /><polygon points="236.2,151.9 238.4,150.9 237.9,148.8 232.4,146.0 232.3,146.2 231.9,147.5 232.3,149.4 234.5,151.4" fill="#6e6e6e" stroke="none" stroke-width="0.8" /><polygon points="214.3,129.5 215.8,130.5 217.9,129.3 216.9,126.9 215.0,124.4 214.4,124.5 213.8,126.3 213.8,128.2" fill="#5e5e5e" stroke="none" stroke-width="0.8" /><polygon points="222.4,104.5 220.8,102.9 219.2,105.8 220.2,107.6 221.9,105.9" fill="#989898" stroke="none" stroke-width="0.8" /><polygon points="234.4,99.9 232.6,101.6 232.9,104.0 233.6,103.9 235.9,101.8 235.8,101.2 235.8,101.2 234.5,100.0" fill="#7c7c7c" stroke="none" stroke-width="0.8" /><polygon points="227.4,157.3 226.9,159.3 227.0,159.4 228.5,159.5 229.1,159.4 228.6,158.3" fill="#7c7c7c" stroke="none" stroke-width="0.8" /><polygon points="223.9,112.8 222.7,113.0 222.2,113.1 221.0,114.9 221.4,116.9 223.0,117.4 224.1,113.1" fill="#7c7c7c" stroke="none" stroke-width="0.8" /><polygon points="228.8,112.0 224.9,108.6 224.7,108.7 224.5,109.0 224.5,111.7 228.8,112.0" fill="#8a8a8a" stroke="none" stroke-width="0.8" /><polygon points="215.1,139.7 215.3,139.6 216.7,138.0 214.0,135.3 213.8,135.1 213.8,138.2 214.0,139.2" fill="#5e5e5e" stroke="none" stroke-width="0.8" /><polygon points="230.6,118.8 229.8,119.3 228.3,120.7 228.7,122.9 228.8,123.1 229.4,123.6 229.6,123.7 232.2,123.3 234.0,119.8" fill="#7c7c7c" stroke="none" stroke-width="0.8" /><polygon points="216.1,134.5 214.0,135.3 216.7,138.0 217.1,137.8 217.7,137.2" fill="#5e5e5e" stroke="none" stroke-width="0.8" /><polygon points="218.9,152.4 218.1,150.1 218.0,150.1 217.6,150.5 218.7,152.5 218.8,152.6" fill="#6e6e6e" stroke="none" stroke-width="0.8" /><polygon points="235.0,120.4 239.8,118.4 239.6,116.5 235.2,117.4 234.3,119.8" fill="#b0b0b0" stroke="none" stroke-width="0.8" /><polygon points="219.8,109.0 220.2,108.7 220.2,107.6 219.2,105.8 218.1,105.5 217.5,106.6 217.0,107.7" fill="#8a8a8a" stroke="none" stroke-width="0.8" /><polygon points="221.6,109.0 222.7,113.0 223.9,112.8 224.5,111.7 224.5,109.0" fill="#7c7c7c" stroke="none" stroke-width="0.8" /><polygon points="226.2,148.9 226.0,147.8 225.1,145.6 223.3,145.4 222.2,146.9 221.4,149.6 222.2,150.8" fill="#7c7c7c" stroke="none" stroke-width="0.8" /><polygon points="240.5,114.4 239.8,114.4 239.7,114.6 239.6,116.5 239.8,118.4 240.1,118.6 242.9,117.1 242.8,116.6 242.4,114.7" fill="#989898" stroke="none" stroke-width="0.8" /><polygon points="218.2,113.2 219.7,114.5 221.0,114.9 222.2,113.1 219.2,110.7 218.1,111.5 217.9,112.0" fill="#7c7c7c" stroke="none" stroke-width="0.8" /><polygon points="229.2,126.8 229.9,126.6 229.4,123.6 228.8,123.1 227.4,126.4 227.3,126.7" fill="#8a8a8a" stroke="none" stroke-width="0.8" /><polygon points="224.1,113.1 223.0,117.4 223.9,118.0 225.6,115.9 225.9,115.2 225.5,114.3" fill="#8a8a8a" stroke="none" stroke-width="0.8" /><polygon points="214.4,124.5 213.8,124.1 213.8,126.3" fill="#7c7c7c" stroke="none" stroke-width="0.8" /><polygon points="232.1,101.3 228.3,101.2 228.8,102.8 231.3,105.5 232.9,104.0 232.6,101.6" fill="#7c7c7c" stroke="none" stroke-width="0.8" /><polygon points="238.4,150.9 236.2,151.9 234.4,154.6 236.0,155.6 237.1,154.3 238.3,152.5 239.0,151.3" fill="#8a8a8a" stroke="none" stroke-width="0.8" /><polygon points="231.8,152.8 231.7,154.5 233.1,155.5 234.4,154.6 236.2,151.9 234.5,151.4 232.0,152.4" fill="#989898" stroke="none" stroke-width="0.8" /><polygon points="218.9,152.4 218.8,152.6 219.9,154.3 220.4,154.9 221.3,154.4 221.4,152.2" fill="#6e6e6e" stroke="none" stroke-width="0.8" /><polygon points="214.3,129.5 213.8,128.2 213.8,130.5" fill="#b0b0b0" stroke="none" stroke-width="0.8" /><polygon points="236.7,102.6 237.5,104.5 238.3,104.5 237.1,102.7 236.9,102.4" fill="#5e5e5e" stroke="none" stroke-width="0.8" /><polygon points="213.8,133.7 213.8,134.1 216.2,133.5 217.2,132.4 216.3,131.4" fill="#8a8a8a" stroke="none" stroke-width="0.8" /><polygon points="214.8,114.1 214.2,116.6 214.2,116.7 215.1,117.0 217.0,117.0 217.5,114.4 214.9,114.0" fill="#989898" stroke="none" stroke-width="0.8" /><polygon points="224.8,140.9 222.3,140.2 220.9,142.2 220.7,142.8 223.3,145.4 225.1,145.6 225.4,145.3" fill="#6e6e6e" stroke="none" stroke-width="0.8" /><polygon points="219.7,135.9 216.1,134.2 216.1,134.5 217.7,137.2" fill="#7c7c7c" stroke="none" stroke-width="0.8" /><polygon points="229.0,136.9 229.2,140.2 229.5,141.3 231.6,142.1 232.7,139.7 230.4,136.7 229.8,136.5 229.1,136.8" fill="#989898" stroke="none" stroke-width="0.8" /><polygon points="239.8,143.4 239.9,144.0 241.6,144.9 242.2,143.1 242.2,143.1" fill="#5e5e5e" stroke="none" stroke-width="0.8" /><polygon points="243.7,122.6 242.9,124.3 243.9,125.2 243.7,122.6" fill="#8a8a8a" stroke="none" stroke-width="0.8" /><polygon points="221.9,105.9 220.2,107.6 220.2,108.7 221.6,109.0 224.5,109.0 224.7,108.7" fill="#989898" stroke="none" stroke-width="0.8" /><polygon points="237.8,127.2 232.7,125.6 232.6,125.7 232.0,127.2 234.5,128.3 236.0,128.4" fill="#7c7c7c" stroke="none" stroke-width="0.8" /><polygon points="228.8,102.8 226.2,105.3 225.8,106.3 226.0,106.8 231.1,106.6 231.3,105.5" fill="#8a8a8a" stroke="none" stroke-width="0.8" /><polygon points="224.5,111.7 223.9,112.8 224.1,113.1 225.5,114.3 228.8,112.2 228.8,112.0" fill="#6e6e6e" stroke="none" stroke-width="0.8" /><polygon points="217.0,107.7 216.5,108.8 215.9,110.4 218.1,111.5 219.2,110.7 219.8,109.0" fill="#6e6e6e" stroke="none" stroke-width="0.8" /><polygon points="233.2,113.7 230.4,116.8 230.6,118.8 234.0,119.8 234.3,119.8 235.2,117.4 235.6,115.5" fill="#7c7c7c" stroke="none" stroke-width="0.8" /><polygon points="221.3,154.4 222.9,155.2 223.4,154.8 223.3,152.0 222.2,151.0 221.4,152.2" fill="#6e6e6e" stroke="none" stroke-width="0.8" /><polygon points="232.2,145.0 232.3,144.7 231.6,142.1 229.5,141.3 227.7,141.7 226.6,144.6" fill="#7c7c7c" stroke="none" stroke-width="0.8" /><polygon points="227.0,134.6 225.8,136.7 228.7,137.0 229.0,136.9 229.1,136.8" fill="#b0b0b0" stroke="none" stroke-width="0.8" /><polygon points="226.3,99.6 227.4,99.9 228.2,99.5 229.2,97.6 228.5,97.5 227.0,97.6 226.5,97.8" fill="#8a8a8a" stroke="none" stroke-width="0.8" /><polygon points="216.3,131.4 217.2,132.4 218.3,132.7 219.5,129.6 219.4,129.4 217.9,129.3 215.8,130.5" fill="#7c7c7c" stroke="none" stroke-width="0.8" /><polygon points="239.9,144.0 237.9,148.8 238.4,150.9 239.0,151.3 239.5,150.4 240.5,148.2 241.4,145.7 241.6,144.9" fill="#6e6e6e" stroke="none" stroke-width="0.8" /><polygon points="234.3,134.1 234.2,134.7 235.5,135.6 237.9,135.8 238.6,134.7 238.0,133.6 237.1,132.9" fill="#b0b0b0" stroke="none" stroke-width="0.8" /><polygon points="219.2,105.8 220.8,102.9 220.5,102.0 219.9,102.7 218.7,104.5 218.1,105.5" fill="#7c7c7c" stroke="none" stroke-width="0.8" /><polygon points="231.6,142.1 232.3,144.7 238.6,142.1 235.6,139.3 234.3,139.1 232.7,139.7" fill="#b0b0b0" stroke="none" stroke-width="0.8" /><polygon points="241.5,120.2 240.4,119.1 238.6,121.8 240.4,122.7" fill="#7c7c7c" stroke="none" stroke-width="0.8" /><polygon points="222.3,125.9 218.4,124.7 220.2,127.2 222.4,127.2" fill="#7c7c7c" stroke="none" stroke-width="0.8" /><polygon points="241.5,120.2 240.4,122.7 240.5,124.6 242.9,124.3 243.7,122.6 242.0,120.3" fill="#989898" stroke="none" stroke-width="0.8" /><polygon points="243.3,119.6 243.4,119.7 243.3,119.6" fill="#8a8a8a" stroke="none" stroke-width="0.8" /><polygon points="223.0,117.4 221.4,116.9 220.2,117.7 220.1,122.2 221.2,122.3 224.1,118.5 223.9,118.0" fill="#8a8a8a" stroke="none" stroke-width="0.8" /><polygon points="225.8,136.7 224.5,136.7 226.4,140.1 227.1,139.3 228.7,137.0" fill="#7c7c7c" stroke="none" stroke-width="0.8" /><polygon points="241.4,132.2 241.3,135.2 243.7,134.8 243.7,134.5 243.9,132.4 242.1,131.7" fill="#989898" stroke="none" stroke-width="0.8" /><polygon points="215.7,145.7 216.3,145.6 216.6,145.4 217.4,144.1 215.3,139.6 215.1,139.7 214.2,140.6 214.8,143.1 215.6,145.7" fill="#7c7c7c" stroke="none" stroke-width="0.8" /><polygon points="217.5,114.4 217.0,117.0 217.1,117.0 219.7,114.5 218.2,113.2" fill="#b0b0b0" stroke="none" stroke-width="0.8" /><polygon points="221.5,101.1 221.4,100.9 221.2,101.2 220.7,101.8" fill="#5e5e5e" stroke="none" stroke-width="0.8" /><polygon points="231.2,98.6 228.2,99.5 227.4,99.9 228.3,101.2 232.1,101.3" fill="#7c7c7c" stroke="none" stroke-width="0.8" /><polygon points="240.1,118.6 240.4,119.1 241.5,120.2 242.0,120.3 243.3,119.6 243.3,119.6 243.3,119.5 242.9,117.1" fill="#7c7c7c" stroke="none" stroke-width="0.8" /><polygon points="242.9,124.3 240.5,124.6 238.6,127.0 238.7,127.0 241.8,128.3 242.5,127.7 243.9,125.2 243.9,125.2" fill="#b0b0b0" stroke="none" stroke-width="0.8" /><polygon points="221.5,135.3 220.7,135.3 219.7,135.9 217.7,137.2 217.1,137.8 220.9,142.2 222.3,140.2 222.3,135.9" fill="#6e6e6e" stroke="none" stroke-width="0.8" /><polygon points="222.2,146.9 219.2,146.9 220.3,149.5 221.4,149.6" fill="#989898" stroke="none" stroke-width="0.8" /><polygon points="221.5,122.5 222.7,123.9 224.5,124.3 226.7,121.2" fill="#8a8a8a" stroke="none" stroke-width="0.8" /><polygon points="229.8,136.5 229.8,134.2 226.8,132.7 226.6,133.0 226.3,133.6 227.0,134.6 229.1,136.8" fill="#8a8a8a" stroke="none" stroke-width="0.8" /><polygon points="232.3,149.4 231.9,147.5 227.7,150.6 228.0,151.1 228.2,151.2 231.5,151.0" fill="#8a8a8a" stroke="none" stroke-width="0.8" /><polygon points="224.8,124.8 224.5,124.3 222.7,123.9 222.3,125.9 222.4,127.2 223.3,128.0 225.2,126.8" fill="#b0b0b0" stroke="none" stroke-width="0.8" /><polygon points="240.5,114.4 242.4,114.7 242.2,113.9 241.8,112.8" fill="#7c7c7c" stroke="none" stroke-width="0.8" /><polygon points="234.0,119.8 232.2,123.3 232.8,125.5 235.6,122.5 235.5,121.5 235.0,120.4 234.3,119.8" fill="#7c7c7c" stroke="none" stroke-width="0.8" /><polygon points="229.3,115.3 225.9,115.2 225.6,115.9 229.8,119.3 230.6,118.8 230.4,116.8" fill="#6e6e6e" stroke="none" stroke-width="0.8" /><polygon points="223.4,154.8 225.2,154.4 225.0,152.5 223.3,152.0" fill="#5e5e5e" stroke="none" stroke-width="0.8" /><polygon points="223.9,118.0 224.1,118.5 227.5,120.7 228.3,120.7 229.8,119.3 225.6,115.9" fill="#6e6e6e" stroke="none" stroke-width="0.8" /><polygon points="237.0,114.7 233.3,110.5 233.2,113.7 235.6,115.5" fill="#989898" stroke="none" stroke-width="0.8" /><polygon points="226.6,144.6 227.7,141.7 226.3,140.3 224.8,140.9 225.4,145.3" fill="#989898" stroke="none" stroke-width="0.8" /><polygon points="236.0,128.4 234.5,128.3 232.1,131.6 232.9,131.9 235.2,130.5" fill="#5e5e5e" stroke="none" stroke-width="0.8" /><polygon points="223.3,152.0 225.0,152.5 227.6,150.6 226.2,148.9 222.2,150.8 222.2,151.0" fill="#8a8a8a" stroke="none" stroke-width="0.8" /><polygon points="234.4,99.9 234.3,99.8 233.0,98.8 232.0,98.3 231.6,98.3 231.2,98.6 232.1,101.3 232.6,101.6" fill="#7c7c7c" stroke="none" stroke-width="0.8" /><polygon points="226.3,133.6 222.6,135.9 224.5,136.7 225.8,136.7 227.0,134.6" fill="#8a8a8a" stroke="none" stroke-width="0.8" /><polygon points="232.0,152.4 234.5,151.4 232.3,149.4 231.5,151.0" fill="#8a8a8a" stroke="none" stroke-width="0.8" /><polygon points="222.2,151.0 222.2,150.8 221.4,149.6 220.3,149.5 218.1,150.1 218.9,152.4 221.4,152.2" fill="#6e6e6e" stroke="none" stroke-width="0.8" /><polygon points="241.8,128.3 238.7,127.0 238.7,129.5 240.4,131.8 241.4,132.2 242.1,131.7 242.7,129.3" fill="#b0b0b0" stroke="none" stroke-width="0.8" /><polygon points="225.0,157.7 225.1,158.7 225.5,158.9 226.9,159.3 227.4,157.3 227.3,157.0" fill="#7c7c7c" stroke="none" stroke-width="0.8" /><polygon points="233.2,157.9 233.1,155.5 231.7,154.5 228.5,154.8 228.1,155.3 231.7,157.7" fill="#8a8a8a" stroke="none" stroke-width="0.8" /><polygon points="243.3,119.6 242.0,120.3 243.7,122.6 243.7,122.6 243.7,122.5 243.4,119.7" fill="#8a8a8a" stroke="none" stroke-width="0.8" /><polygon points="225.5,107.8 226.0,106.8 225.8,106.3 223.7,104.6 222.4,104.5 221.9,105.9 224.7,108.7 224.9,108.6" fill="#6e6e6e" stroke="none" stroke-width="0.8" /><polygon points="235.2,130.5 232.9,131.9 234.3,134.1 237.1,132.9 237.2,132.2" fill="#5e5e5e" stroke="none" stroke-width="0.8" /><polygon points="227.4,126.4 226.2,124.6 224.8,124.8 225.2,126.8 226.9,127.1 227.3,126.7" fill="#7c7c7c" stroke="none" stroke-width="0.8" /><polygon points="190.1,198.2 189.0,201.0 194.0,198.6 193.7,198.0" fill="#c0c0c0" stroke="none" stroke-width="0.8" /><polygon points="166.4,214.4 168.3,215.0 169.2,214.9 170.2,212.5 170.0,211.6 167.9,211.7 166.9,212.3" fill="#d4d4d4" stroke="none" stroke-width="0.8" /><polygon points="203.4,188.3 206.1,190.7 207.1,189.3 205.1,187.5" fill="#c0c0c0" stroke="none" stroke-width="0.8" /><polygon points="161.7,213.2 162.6,212.1 163.4,211.0 163.4,210.7 160.9,212.2" fill="#5a5a5a" stroke="none" stroke-width="0.8" /><polygon points="204.1,194.1 201.2,194.7 201.4,195.7 203.0,196.8 204.3,195.9 204.4,195.9" fill="#d4d4d4" stroke="none" stroke-width="0.8" /><polygon points="192.8,193.2 192.9,192.4 192.4,192.7" fill="#d4d4d4" stroke="none" stroke-width="0.8" /><polygon points="170.1,208.1 169.8,206.7 168.1,207.7 168.2,208.1" fill="#d4d4d4" stroke="none" stroke-width="0.8" /><polygon points="166.2,218.4 164.8,219.0 164.0,220.5 164.2,220.8 166.5,219.3" fill="#a0a0a0" stroke="none" stroke-width="0.8" /><polygon points="194.0,198.6 194.7,199.7 195.5,200.0 196.7,200.3 199.0,198.0 199.0,197.9 196.8,193.2 196.7,193.0 193.6,195.0 193.7,198.0" fill="#d4d4d4" stroke="none" stroke-width="0.8" /><polygon points="200.8,188.9 203.4,188.3 205.1,187.5 205.6,186.0 205.6,185.9 204.9,185.0 204.6,185.2 200.5,187.7" fill="#5a5a5a" stroke="none" stroke-width="0.8" /><polygon points="174.5,213.7 172.7,211.4 170.5,211.2 170.0,211.6 170.2,212.5 172.1,215.0 172.7,215.3" fill="#5a5a5a" stroke="none" stroke-width="0.8" /><polygon points="188.5,205.6 187.3,203.3 186.0,202.8 184.6,203.2 183.2,206.8 184.8,208.0 188.5,205.7" fill="#5a5a5a" stroke="none" stroke-width="0.8" /><polygon points="211.1,187.1 211.0,187.0 210.8,186.6 210.6,186.3 210.3,185.9 210.0,185.6 209.7,185.4 209.6,186.4 209.8,186.8" fill="#808080" stroke="none" stroke-width="0.8" /><polygon points="175.3,208.3 174.8,207.7 173.6,208.7 173.6,210.7 174.3,210.6" fill="#808080" stroke="none" stroke-width="0.8" /><polygon points="177.4,206.2 177.8,206.9 179.8,208.2 180.4,208.4 180.4,208.4 180.0,205.2" fill="#5a5a5a" stroke="none" stroke-width="0.8" /><polygon points="137.4,229.3 139.7,228.8 137.9,226.4 136.7,227.1" fill="#a0a0a0" stroke="none" stroke-width="0.8" /><polygon points="205.6,186.0 205.1,187.5 207.1,189.3 207.1,189.2 208.1,187.1" fill="#5a5a5a" stroke="none" stroke-width="0.8" /><polygon points="141.5,229.2 142.4,231.1 147.7,225.3 146.4,223.5 142.4,225.2" fill="#a0a0a0" stroke="none" stroke-width="0.8" /><polygon points="205.4,192.6 205.3,192.7 206.8,194.4 209.4,192.8 209.7,192.6 209.8,192.5" fill="#5a5a5a" stroke="none" stroke-width="0.8" /><polygon points="205.6,185.9 207.7,184.6 207.6,184.5 207.2,184.5 206.7,184.5 206.3,184.6 205.8,184.6 205.4,184.8 205.0,185.0 204.9,185.0" fill="#c0c0c0" stroke="none" stroke-width="0.8" /><polygon points="153.3,225.8 152.7,224.9 152.5,224.7 148.6,226.0 149.4,227.4 151.0,228.9 153.6,227.3" fill="#5a5a5a" stroke="none" stroke-width="0.8" /><polygon points="182.1,202.5 180.9,200.9 176.9,202.3 176.0,202.8 176.8,203.8 180.3,204.0" fill="#808080" stroke="none" stroke-width="0.8" /><polygon points="189.0,195.7 189.2,197.0 189.9,198.1 190.1,198.2 193.7,198.0 193.6,195.0 193.4,194.8 189.9,194.3 189.3,194.6" fill="#d4d4d4" stroke="none" stroke-width="0.8" /><polygon points="204.4,195.9 204.3,195.9 204.4,195.9" fill="#a0a0a0" stroke="none" stroke-width="0.8" /><polygon points="209.7,185.4 209.6,185.4 209.3,185.1 208.9,184.9 208.5,184.7 208.0,184.6 207.7,184.6 205.6,185.9 205.6,186.0 208.1,187.1 209.6,186.4" fill="#d4d4d4" stroke="none" stroke-width="0.8" /><polygon points="181.8,208.1 180.4,208.4 180.4,208.4 180.0,211.0 182.4,209.5" fill="#c0c0c0" stroke="none" stroke-width="0.8" /><polygon points="163.4,211.0 162.6,212.1 166.4,214.5 166.4,214.4 166.9,212.3" fill="#c0c0c0" stroke="none" stroke-width="0.8" /><polygon points="180.9,200.9 180.6,200.0 176.9,202.3" fill="#5a5a5a" stroke="none" stroke-width="0.8" /><polygon points="158.8,223.6 158.6,223.3 152.7,224.9 153.3,225.8 156.4,225.6 158.6,224.2" fill="#a0a0a0" stroke="none" stroke-width="0.8" /><polygon points="163.4,211.0 166.9,212.3 167.9,211.7 166.8,208.7 166.7,208.6 163.4,210.7" fill="#5a5a5a" stroke="none" stroke-width="0.8" /><polygon points="176.5,211.2 174.3,210.6 173.6,210.7 172.7,211.4 174.5,213.7 175.6,213.7 177.3,212.6" fill="#d4d4d4" stroke="none" stroke-width="0.8" /><polygon points="152.6,221.4 151.4,218.0 146.2,221.2 146.5,222.7" fill="#d4d4d4" stroke="none" stroke-width="0.8" /><polygon points="209.8,186.8 210.1,190.4 210.6,191.0 211.1,190.8 211.3,190.5 211.4,190.0 211.5,189.6 211.5,189.2 211.5,188.7 211.4,188.3 211.4,187.8 211.2,187.4 211.1,187.1" fill="#d4d4d4" stroke="none" stroke-width="0.8" /><polygon points="187.6,197.5 189.2,197.0 189.0,195.7 187.3,196.4" fill="#5a5a5a" stroke="none" stroke-width="0.8" /><polygon points="175.3,208.3 174.3,210.6 176.5,211.2 176.6,209.5 176.2,208.9" fill="#808080" stroke="none" stroke-width="0.8" /><polygon points="157.2,214.5 157.2,214.5 157.1,214.5" fill="#808080" stroke="none" stroke-width="0.8" /><polygon points="176.8,205.7 174.8,207.2 174.8,207.7 175.3,208.3 176.2,208.9 177.8,206.9 177.4,206.2" fill="#5a5a5a" stroke="none" stroke-width="0.8" /><polygon points="193.4,194.8 192.8,193.2 192.4,192.7 189.9,194.3" fill="#c0c0c0" stroke="none" stroke-width="0.8" /><polygon points="174.5,213.7 172.7,215.3 172.7,215.5 175.6,213.7" fill="#c0c0c0" stroke="none" stroke-width="0.8" /><polygon points="192.8,193.2 193.4,194.8 193.6,195.0 196.7,193.0 197.3,191.0 196.4,190.3 192.9,192.4" fill="#808080" stroke="none" stroke-width="0.8" /><polygon points="188.5,205.6 188.5,205.7 188.7,205.6" fill="#d4d4d4" stroke="none" stroke-width="0.8" /><polygon points="200.4,194.7 196.8,193.2 199.0,197.9" fill="#c0c0c0" stroke="none" stroke-width="0.8" /><polygon points="142.4,231.1 143.1,231.6 147.0,228.3 148.2,225.9 147.7,225.3 142.4,231.1" fill="#5a5a5a" stroke="none" stroke-width="0.8" /><polygon points="165.3,216.1 166.4,214.5 162.6,212.1 161.7,213.2 160.8,216.0" fill="#c0c0c0" stroke="none" stroke-width="0.8" /><polygon points="134.7,231.4 135.2,231.1 137.4,229.3 136.7,227.1 136.6,227.2 136.3,227.4 135.9,227.7 135.6,228.0 135.4,228.4 135.1,228.7 134.9,229.1 134.7,229.5 134.6,230.0 134.5,230.4 134.5,230.8 134.5,231.3 134.5,231.3" fill="#d4d4d4" stroke="none" stroke-width="0.8" /><polygon points="170.1,208.1 170.6,208.5 171.0,208.3 173.1,205.8 172.9,204.8 169.8,206.7" fill="#5a5a5a" stroke="none" stroke-width="0.8" /><polygon points="197.3,191.0 200.6,189.3 200.8,188.9 200.5,187.7 196.4,190.3" fill="#a0a0a0" stroke="none" stroke-width="0.8" /><polygon points="194.7,199.7 192.6,201.9 192.7,203.1 195.0,201.7 195.5,200.0" fill="#c0c0c0" stroke="none" stroke-width="0.8" /><polygon points="173.6,210.7 173.6,208.7 171.0,208.3 170.6,208.5 170.5,211.2 172.7,211.4" fill="#c0c0c0" stroke="none" stroke-width="0.8" /><polygon points="140.8,224.6 137.9,226.4 139.7,228.8 141.5,229.2 142.4,225.2 141.4,224.6" fill="#5a5a5a" stroke="none" stroke-width="0.8" /><polygon points="144.1,232.5 143.1,231.6 142.4,231.1 141.7,231.7 138.9,234.6 138.9,235.0 138.9,235.0 139.7,235.4 139.7,235.4 140.2,235.4 140.6,235.2 141.0,235.0 141.4,234.8 144.3,233.0" fill="#c0c0c0" stroke="none" stroke-width="0.8" /><polygon points="143.1,231.6 144.1,232.5 145.0,232.2 147.2,230.9 147.0,228.3" fill="#c0c0c0" stroke="none" stroke-width="0.8" /><polygon points="201.2,194.7 200.8,194.6 200.4,194.7 199.0,197.9 199.0,198.0 200.6,198.0 201.4,195.7" fill="#d4d4d4" stroke="none" stroke-width="0.8" /><polygon points="138.9,235.0 138.9,234.6 134.9,231.8 134.8,232.7 135.0,233.0 135.2,233.4 135.4,233.7 135.7,234.1 136.0,234.4 136.4,234.6 136.7,234.9 137.1,235.1 137.5,235.3 138.0,235.4 138.3,235.4" fill="#d4d4d4" stroke="none" stroke-width="0.8" /><polygon points="164.8,219.0 161.5,217.9 164.0,220.5" fill="#808080" stroke="none" stroke-width="0.8" /><polygon points="204.4,195.9 206.8,194.4 205.3,192.7 204.5,193.0 204.1,194.1 204.4,195.9" fill="#c0c0c0" stroke="none" stroke-width="0.8" /><polygon points="180.4,208.4 179.8,208.2 176.6,209.5 176.5,211.2 177.3,212.6 180.0,211.0" fill="#d4d4d4" stroke="none" stroke-width="0.8" /><polygon points="180.3,204.0 176.8,203.8 176.8,205.7 177.4,206.2 180.0,205.2" fill="#d4d4d4" stroke="none" stroke-width="0.8" /><polygon points="149.4,227.4 148.5,229.5 148.8,230.3 151.0,228.9" fill="#5a5a5a" stroke="none" stroke-width="0.8" /><polygon points="189.0,201.0 187.7,203.1 192.6,201.9 194.7,199.7 194.0,198.6" fill="#5a5a5a" stroke="none" stroke-width="0.8" /><polygon points="158.0,220.9 152.9,221.6 152.5,224.7 152.7,224.9 158.6,223.3 158.2,221.3" fill="#c0c0c0" stroke="none" stroke-width="0.8" /><polygon points="207.1,189.3 206.1,190.7 205.4,192.6 209.8,192.5 210.1,192.3 210.2,192.1 210.6,191.0 210.1,190.4 207.1,189.2" fill="#808080" stroke="none" stroke-width="0.8" /><polygon points="172.7,215.3 172.1,215.0 169.6,216.0 169.4,217.4 169.5,217.4 172.7,215.5" fill="#a0a0a0" stroke="none" stroke-width="0.8" /><polygon points="158.6,224.2 159.3,223.7 158.8,223.6" fill="#d4d4d4" stroke="none" stroke-width="0.8" /><polygon points="196.8,193.2 200.4,194.7 200.8,194.6 201.0,189.8 200.6,189.3 197.3,191.0 196.7,193.0" fill="#808080" stroke="none" stroke-width="0.8" /><polygon points="200.6,198.0 199.0,198.0 196.7,200.3 196.9,200.6 200.8,198.1" fill="#808080" stroke="none" stroke-width="0.8" /><polygon points="173.1,205.8 171.0,208.3 173.6,208.7 174.8,207.7 174.8,207.2" fill="#a0a0a0" stroke="none" stroke-width="0.8" /><polygon points="138.9,235.0 139.0,235.5 139.3,235.5 139.7,235.4" fill="#c0c0c0" stroke="none" stroke-width="0.8" /><polygon points="141.4,224.6 141.3,224.3 140.8,224.6" fill="#5a5a5a" stroke="none" stroke-width="0.8" /><polygon points="176.0,202.8 172.9,204.8 173.1,205.8 174.8,207.2 176.8,205.7 176.8,203.8" fill="#808080" stroke="none" stroke-width="0.8" /><polygon points="189.9,198.1 189.2,197.0 187.6,197.5 187.0,198.9" fill="#5a5a5a" stroke="none" stroke-width="0.8" /><polygon points="147.7,225.3 148.2,225.9 148.6,226.0 152.5,224.7 152.9,221.6 152.6,221.4 146.5,222.7 146.4,223.5" fill="#c0c0c0" stroke="none" stroke-width="0.8" /><polygon points="205.3,192.7 205.4,192.6 206.1,190.7 203.4,188.3 200.8,188.9 200.6,189.3 201.0,189.8 204.5,193.0" fill="#d4d4d4" stroke="none" stroke-width="0.8" /><polygon points="158.6,223.3 158.8,223.6 159.3,223.7 163.3,221.3 158.2,221.3" fill="#808080" stroke="none" stroke-width="0.8" /><polygon points="134.9,231.8 138.9,234.6 141.7,231.7 135.2,231.1 134.7,231.4" fill="#808080" stroke="none" stroke-width="0.8" /><polygon points="170.0,211.6 170.5,211.2 170.6,208.5 170.1,208.1 168.2,208.1 166.8,208.7 167.9,211.7" fill="#a0a0a0" stroke="none" stroke-width="0.8" /><polygon points="183.2,206.8 182.0,208.0 183.3,208.9 184.8,208.0" fill="#808080" stroke="none" stroke-width="0.8" /><polygon points="180.9,200.9 182.1,202.5 184.6,203.2 186.0,202.8 185.9,199.9 184.6,197.5 180.6,200.0" fill="#808080" stroke="none" stroke-width="0.8" /><polygon points="167.9,217.0 169.4,217.4 169.6,216.0 169.2,214.9 168.3,215.0" fill="#808080" stroke="none" stroke-width="0.8" /><polygon points="160.8,216.0 161.7,213.2 160.9,212.2 157.2,214.5 157.2,214.5 159.5,216.8 160.1,216.6" fill="#a0a0a0" stroke="none" stroke-width="0.8" /><polygon points="148.5,229.5 147.3,230.9 147.6,231.0 148.8,230.3" fill="#5a5a5a" stroke="none" stroke-width="0.8" /><polygon points="134.9,231.8 134.7,231.4 134.5,231.3 134.6,231.7 134.6,232.2 134.8,232.6 134.8,232.7" fill="#c0c0c0" stroke="none" stroke-width="0.8" /><polygon points="185.9,199.9 186.0,202.8 187.3,203.3 187.7,203.1 189.0,201.0 190.1,198.2 189.9,198.1 187.0,198.9" fill="#a0a0a0" stroke="none" stroke-width="0.8" /><polygon points="147.0,228.3 147.2,230.9 147.3,230.9 148.5,229.5 149.4,227.4 148.6,226.0 148.2,225.9" fill="#808080" stroke="none" stroke-width="0.8" /><polygon points="196.7,200.3 195.5,200.0 195.0,201.7 196.9,200.6" fill="#5a5a5a" stroke="none" stroke-width="0.8" /><polygon points="138.9,235.0 138.3,235.4 138.4,235.5 138.8,235.5 139.0,235.5 138.9,235.0" fill="#c0c0c0" stroke="none" stroke-width="0.8" /><polygon points="161.5,217.9 164.8,219.0 166.2,218.4 166.1,217.0 165.3,216.1 160.8,216.0 160.1,216.6" fill="#5a5a5a" stroke="none" stroke-width="0.8" /><polygon points="166.5,219.3 169.5,217.4 169.4,217.4 167.9,217.0 166.1,217.0 166.2,218.4" fill="#5a5a5a" stroke="none" stroke-width="0.8" /><polygon points="210.6,191.0 210.2,192.1 210.4,192.0 210.6,191.6 210.9,191.3 211.1,190.9 211.1,190.8" fill="#5a5a5a" stroke="none" stroke-width="0.8" /><polygon points="141.4,224.6 142.4,225.2 146.4,223.5 146.5,222.7 146.2,221.2 141.3,224.3" fill="#5a5a5a" stroke="none" stroke-width="0.8" /><polygon points="176.2,208.9 176.6,209.5 179.8,208.2 177.8,206.9" fill="#d4d4d4" stroke="none" stroke-width="0.8" /><polygon points="152.6,221.4 152.9,221.6 158.0,220.9 158.4,219.2 152.4,217.4 151.4,218.0" fill="#808080" stroke="none" stroke-width="0.8" /><polygon points="153.3,225.8 153.6,227.3 156.4,225.6" fill="#808080" stroke="none" stroke-width="0.8" /><polygon points="169.2,214.9 169.6,216.0 172.1,215.0 170.2,212.5" fill="#d4d4d4" stroke="none" stroke-width="0.8" /><polygon points="182.0,208.0 181.8,208.1 182.4,209.5 183.3,208.9" fill="#c0c0c0" stroke="none" stroke-width="0.8" /><polygon points="201.4,195.7 200.6,198.0 200.8,198.1 203.0,196.8" fill="#5a5a5a" stroke="none" stroke-width="0.8" /><polygon points="180.4,208.4 181.8,208.1 182.0,208.0 183.2,206.8 184.6,203.2 182.1,202.5 180.3,204.0 180.0,205.2" fill="#a0a0a0" stroke="none" stroke-width="0.8" /><polygon points="147.3,230.9 147.2,230.9 145.0,232.2 145.4,232.3 147.6,231.0" fill="#d4d4d4" stroke="none" stroke-width="0.8" /><polygon points="204.1,194.1 204.5,193.0 201.0,189.8 200.8,194.6 201.2,194.7" fill="#808080" stroke="none" stroke-width="0.8" /><polygon points="145.0,232.2 144.1,232.5 144.3,233.0 145.4,232.3" fill="#c0c0c0" stroke="none" stroke-width="0.8" /><polygon points="185.9,199.9 187.0,198.9 187.6,197.5 187.3,196.4 186.7,196.3 184.6,197.5" fill="#5a5a5a" stroke="none" stroke-width="0.8" /><polygon points="192.6,201.9 187.7,203.1 187.3,203.3 188.5,205.6 188.7,205.6 192.7,203.1" fill="#c0c0c0" stroke="none" stroke-width="0.8" /><polygon points="163.3,221.3 164.2,220.8 164.0,220.5 161.5,217.9 160.1,216.6 159.5,216.8 158.4,219.2 158.0,220.9 158.2,221.3" fill="#c0c0c0" stroke="none" stroke-width="0.8" /><polygon points="187.3,196.4 189.0,195.7 189.3,194.6 186.7,196.3" fill="#d4d4d4" stroke="none" stroke-width="0.8" /><polygon points="158.4,219.2 159.5,216.8 157.2,214.5 157.1,214.5 152.4,217.4" fill="#c0c0c0" stroke="none" stroke-width="0.8" /><polygon points="166.1,217.0 167.9,217.0 168.3,215.0 166.4,214.4 166.4,214.5 165.3,216.1" fill="#808080" stroke="none" stroke-width="0.8" /><polygon points="209.6,186.4 208.1,187.1 207.1,189.2 210.1,190.4 209.8,186.8" fill="#5a5a5a" stroke="none" stroke-width="0.8" /><polygon points="137.4,229.3 135.2,231.1 141.7,231.7 142.4,231.1 142.4,231.1 141.5,229.2 139.7,228.8" fill="#a0a0a0" stroke="none" stroke-width="0.8" /><polygon points="166.8,208.7 168.2,208.1 168.1,207.7 166.7,208.6" fill="#c0c0c0" stroke="none" stroke-width="0.8" /></g>
<polygon points="633.8,138.3 639.6,133.2 642.7,126.8 640.8,121.1 644.0,117.3 645.3,112.8 650.4,111.6 656.8,114.1 665.7,117.3 674.6,117.9 681.0,116.0 688.6,113.5 693.7,112.8 701.3,116.7 706.4,119.8 716.6,121.1 724.3,122.4 726.8,125.6 721.7,131.9 716.7,135.0 718.5,138.9 717.6,153.2 725.6,162.1 734.5,160.3 734.5,187.1 725.6,185.3 722.2,186.0 704.0,197.9 690.3,207.9 676.6,217.0 662.4,226.3 655.2,231.4 650.0,216.0 649.0,200.0 650.0,185.0 655.0,170.0 662.0,155.0 670.0,147.0 675.0,140.0 670.0,132.0 660.0,131.0 650.0,134.0 642.0,140.0 636.0,143.0" fill="#565656" stroke="none" stroke-width="0.8" />
<polygon points="689.9,140.9 698.8,142.1 703.9,148.5 689.9,153.6" fill="#8a8a8a" stroke="none" stroke-width="0.8" />
<polygon points="680.0,178.0 688.0,172.0 691.0,176.0 683.0,182.0" fill="#8a8a8a" stroke="none" stroke-width="0.8" />
<polygon points="718.5,122.0 734.5,118.0 734.5,160.3 725.6,162.1 717.6,153.2 718.5,138.9 716.7,135.0 721.7,131.9" fill="#8e8e8e" stroke="none" stroke-width="0.8" />
<polygon points="706.4,124.3 714.1,123.7 721.7,128.8 714.1,132.0 706.4,130.7" fill="#d2d2d2" stroke="none" stroke-width="0.8" />
<use href="#llines" transform="matrix(1.022 0 0 1.022 514.2 -1.6)"/>
<use href="#clines" transform="matrix(1.022 0 0 1.022 514.2 -1.6)"/>
<g transform="matrix(1.022 0 0 1.022 514.2 -1.6)"><polygon points="38.5,79.0 41.6,79.0 41.6,84.0 44.7,84.6 47.8,85.2 49.7,87.7 51.6,89.5 54.7,90.1 55.9,92.0 55.9,95.7 54.0,97.6 54.0,101.9 50.9,102.5 47.2,102.5 43.5,102.5 41.0,100.7 40.4,97.0 35.4,96.3 30.5,95.7 29.3,92.0 30.5,88.3 32.3,84.6 35.4,84.0 38.5,84.0" fill="none" stroke="#505050" stroke-width="0.7" /><polyline points="41.6,84.0 45.0,92.0 48.0,102.5" fill="none" stroke="#505050" stroke-width="0.6"/><polyline points="35.4,84.0 40.4,97.0" fill="none" stroke="#505050" stroke-width="0.6"/><polyline points="47.8,85.2 50.0,96.0 54.0,97.6" fill="none" stroke="#505050" stroke-width="0.6"/></g>
<use href="#tex" transform="matrix(1.022 0 0 1.022 514.2 -1.6)" stroke="rgba(0,0,0,0.5)" stroke-width="0.6"/>
</g>
<use href="#outl" fill="none" stroke="#404040" stroke-width="0.8" transform="matrix(1.022 0 0 1.022 514.2 -1.6)"/>
<rect x="4.5" y="2.5" width="776.5" height="290" fill="none" stroke="#000" stroke-width="3"/>
<rect x="263" y="2" width="3" height="291" fill="#000"/>
<rect x="522" y="2" width="3" height="291" fill="#000"/>
<text x="13.8" y="281" font-size="11.5" font-weight="bold">a)</text>
<text x="278" y="281" font-size="11.5" font-weight="bold">b)</text>
<text x="538" y="281" font-size="11.5" font-weight="bold">c)</text>
<line x1="4.5" y1="304" x2="264" y2="304" stroke="#d0d0d0" stroke-width="1"/>
<line x1="4.5" y1="304" x2="4.5" y2="563.5" stroke="#a0a0a0" stroke-width="1"/>
<line x1="4" y1="563.5" x2="781" y2="563.5" stroke="#d8d8d8" stroke-width="1"/>
<line x1="264" y1="303.5" x2="781" y2="303.5" stroke="#999" stroke-width="1"/>
<line x1="264.5" y1="303.5" x2="264.5" y2="563" stroke="#999" stroke-width="1"/>
<line x1="524.5" y1="303.5" x2="524.5" y2="563" stroke="#999" stroke-width="1"/>
<line x1="780.5" y1="303.5" x2="780.5" y2="563" stroke="#aaa" stroke-width="1"/>
<line x1="50.4" y1="471.5" x2="255.5" y2="471.5" stroke="#b4b4b4" stroke-width="1"/>
<line x1="50.4" y1="445.5" x2="255.5" y2="445.5" stroke="#b4b4b4" stroke-width="1"/>
<line x1="50.4" y1="420.5" x2="255.5" y2="420.5" stroke="#b4b4b4" stroke-width="1"/>
<line x1="50.4" y1="394.5" x2="255.5" y2="394.5" stroke="#b4b4b4" stroke-width="1"/>
<line x1="50.4" y1="369.5" x2="255.5" y2="369.5" stroke="#b4b4b4" stroke-width="1"/>
<line x1="50.4" y1="344.5" x2="255.5" y2="344.5" stroke="#999" stroke-width="1"/>
<line x1="255.5" y1="344.5" x2="255.5" y2="496.7" stroke="#999" stroke-width="1"/>
<rect x="65.05" y="493.65" width="19.53" height="3.05" fill="#c0c0c0" stroke="#000" stroke-width="0.9"/>
<rect x="84.58" y="472.92" width="19.53" height="23.78" fill="#000000" stroke="#000" stroke-width="0.9"/>
<rect x="133.42" y="495.68" width="19.53" height="1.02" fill="#c0c0c0" stroke="#000" stroke-width="0.9"/>
<rect x="152.95" y="478.39" width="19.53" height="18.31" fill="#000000" stroke="#000" stroke-width="0.9"/>
<rect x="201.78" y="355.8" width="19.53" height="140.9" fill="#c0c0c0" stroke="#000" stroke-width="0.9"/>
<rect x="221.32" y="461.09" width="19.53" height="35.61" fill="#000000" stroke="#000" stroke-width="0.9"/>
<line x1="50.5" y1="344.5" x2="50.5" y2="497" stroke="#808080" stroke-width="1"/>
<line x1="46.5" y1="496.5" x2="255.5" y2="496.5" stroke="#808080" stroke-width="1"/>
<line x1="46.5" y1="496.5" x2="50.5" y2="496.5" stroke="#808080" stroke-width="1"/>
<text x="43.1" y="500.3" text-anchor="end" font-size="10">0</text>
<line x1="46.5" y1="471.5" x2="50.5" y2="471.5" stroke="#808080" stroke-width="1"/>
<text x="43.1" y="474.87" text-anchor="end" font-size="10">10</text>
<line x1="46.5" y1="445.5" x2="50.5" y2="445.5" stroke="#808080" stroke-width="1"/>
<text x="43.1" y="449.43" text-anchor="end" font-size="10">20</text>
<line x1="46.5" y1="420.5" x2="50.5" y2="420.5" stroke="#808080" stroke-width="1"/>
<text x="43.1" y="424" text-anchor="end" font-size="10">30</text>
<line x1="46.5" y1="394.5" x2="50.5" y2="394.5" stroke="#808080" stroke-width="1"/>
<text x="43.1" y="398.57" text-anchor="end" font-size="10">40</text>
<line x1="46.5" y1="369.5" x2="50.5" y2="369.5" stroke="#808080" stroke-width="1"/>
<text x="43.1" y="373.13" text-anchor="end" font-size="10">50</text>
<line x1="46.5" y1="344.5" x2="50.5" y2="344.5" stroke="#808080" stroke-width="1"/>
<text x="43.1" y="347.7" text-anchor="end" font-size="10">60</text>
<line x1="50.5" y1="496.5" x2="50.5" y2="500.5" stroke="#808080" stroke-width="1"/>
<line x1="118.5" y1="496.5" x2="118.5" y2="500.5" stroke="#808080" stroke-width="1"/>
<line x1="187.5" y1="496.5" x2="187.5" y2="500.5" stroke="#808080" stroke-width="1"/>
<line x1="255.5" y1="496.5" x2="255.5" y2="500.5" stroke="#808080" stroke-width="1"/>
<text x="0" y="0" transform="translate(84.58,515.1) scale(0.925,1)" text-anchor="middle" font-size="10.4">Ow n Car</text>
<text x="0" y="0" transform="translate(152.95,515.1) scale(0.925,1)" text-anchor="middle" font-size="10.4">Gas as</text>
<text x="0" y="0" transform="translate(152.95,529.5) scale(0.925,1)" text-anchor="middle" font-size="10.4">Primary Fuel</text>
<text x="0" y="0" transform="translate(152.95,543.9) scale(0.925,1)" text-anchor="middle" font-size="10.4">Source</text>
<text x="0" y="0" transform="translate(221.32,515.1) scale(0.925,1)" text-anchor="middle" font-size="10.4">Earth Floor in</text>
<text x="0" y="0" transform="translate(221.32,529.5) scale(0.925,1)" text-anchor="middle" font-size="10.4">Dw elling</text>
<text x="137.2" y="323.4" text-anchor="middle" font-size="12.2" font-weight="bold">Administrative Designation</text>
<text x="0" y="0" transform="translate(23,420) rotate(-90)" text-anchor="middle" font-size="10.5" font-weight="bold">%</text>
<rect x="59.5" y="352" width="47" height="38.3" fill="#fff" stroke="#a0a0a0" stroke-width="1"/>
<rect x="63.5" y="359.5" width="6.5" height="6.5" fill="#c0c0c0" stroke="#000" stroke-width="0.8"/>
<text x="73" y="366.6" font-size="10" font-weight="bold">Rural</text>
<rect x="63.5" y="377.3" width="6.5" height="6.5" fill="#000000" stroke="#000" stroke-width="0.8"/>
<text x="73" y="384.4" font-size="10" font-weight="bold">Urban</text>
<line x1="311" y1="473.5" x2="517.5" y2="473.5" stroke="#b4b4b4" stroke-width="1"/>
<line x1="311" y1="447.5" x2="517.5" y2="447.5" stroke="#b4b4b4" stroke-width="1"/>
<line x1="311" y1="421.5" x2="517.5" y2="421.5" stroke="#b4b4b4" stroke-width="1"/>
<line x1="311" y1="395.5" x2="517.5" y2="395.5" stroke="#b4b4b4" stroke-width="1"/>
<line x1="311" y1="369.5" x2="517.5" y2="369.5" stroke="#b4b4b4" stroke-width="1"/>
<line x1="311" y1="343.5" x2="517.5" y2="343.5" stroke="#999" stroke-width="1"/>
<line x1="517.5" y1="343.5" x2="517.5" y2="499.6" stroke="#999" stroke-width="1"/>
<rect x="322.47" y="488.93" width="15.3" height="10.67" fill="#c0c0c0" stroke="#000" stroke-width="0.9"/>
<rect x="337.77" y="481.13" width="15.3" height="18.47" fill="#808080" stroke="#000" stroke-width="0.9"/>
<rect x="353.06" y="476.97" width="15.3" height="22.63" fill="#000000" stroke="#000" stroke-width="0.9"/>
<rect x="391.31" y="487.63" width="15.3" height="11.97" fill="#c0c0c0" stroke="#000" stroke-width="0.9"/>
<rect x="406.6" y="489.71" width="15.3" height="9.89" fill="#808080" stroke="#000" stroke-width="0.9"/>
<rect x="421.9" y="481.65" width="15.3" height="17.95" fill="#000000" stroke="#000" stroke-width="0.9"/>
<rect x="460.14" y="367.96" width="15.3" height="131.64" fill="#c0c0c0" stroke="#000" stroke-width="0.9"/>
<rect x="475.44" y="403.08" width="15.3" height="96.52" fill="#808080" stroke="#000" stroke-width="0.9"/>
<rect x="490.73" y="459.27" width="15.3" height="40.33" fill="#000000" stroke="#000" stroke-width="0.9"/>
<line x1="311.5" y1="343.5" x2="311.5" y2="500" stroke="#808080" stroke-width="1"/>
<line x1="307.5" y1="499.5" x2="517.5" y2="499.5" stroke="#808080" stroke-width="1"/>
<line x1="307.5" y1="499.5" x2="311.5" y2="499.5" stroke="#808080" stroke-width="1"/>
<text x="303.5" y="503.2" text-anchor="end" font-size="10">0</text>
<line x1="307.5" y1="473.5" x2="311.5" y2="473.5" stroke="#808080" stroke-width="1"/>
<text x="303.5" y="477.18" text-anchor="end" font-size="10">10</text>
<line x1="307.5" y1="447.5" x2="311.5" y2="447.5" stroke="#808080" stroke-width="1"/>
<text x="303.5" y="451.17" text-anchor="end" font-size="10">20</text>
<line x1="307.5" y1="421.5" x2="311.5" y2="421.5" stroke="#808080" stroke-width="1"/>
<text x="303.5" y="425.15" text-anchor="end" font-size="10">30</text>
<line x1="307.5" y1="395.5" x2="311.5" y2="395.5" stroke="#808080" stroke-width="1"/>
<text x="303.5" y="399.13" text-anchor="end" font-size="10">40</text>
<line x1="307.5" y1="369.5" x2="311.5" y2="369.5" stroke="#808080" stroke-width="1"/>
<text x="303.5" y="373.12" text-anchor="end" font-size="10">50</text>
<line x1="307.5" y1="343.5" x2="311.5" y2="343.5" stroke="#808080" stroke-width="1"/>
<text x="303.5" y="347.1" text-anchor="end" font-size="10">60</text>
<line x1="311.5" y1="499.5" x2="311.5" y2="503.5" stroke="#808080" stroke-width="1"/>
<line x1="379.5" y1="499.5" x2="379.5" y2="503.5" stroke="#808080" stroke-width="1"/>
<line x1="448.5" y1="499.5" x2="448.5" y2="503.5" stroke="#808080" stroke-width="1"/>
<line x1="517.5" y1="499.5" x2="517.5" y2="503.5" stroke="#808080" stroke-width="1"/>
<text x="0" y="0" transform="translate(345.42,516.7) scale(0.925,1)" text-anchor="middle" font-size="10.4">Ow n Car</text>
<text x="0" y="0" transform="translate(414.25,516.7) scale(0.925,1)" text-anchor="middle" font-size="10.4">Gas as</text>
<text x="0" y="0" transform="translate(414.25,531.1) scale(0.925,1)" text-anchor="middle" font-size="10.4">Primary Fuel</text>
<text x="0" y="0" transform="translate(414.25,545.5) scale(0.925,1)" text-anchor="middle" font-size="10.4">Source</text>
<text x="0" y="0" transform="translate(483.08,516.7) scale(0.925,1)" text-anchor="middle" font-size="10.4">Earth Floor in</text>
<text x="0" y="0" transform="translate(483.08,531.1) scale(0.925,1)" text-anchor="middle" font-size="10.4">Dw elling</text>
<text x="394.5" y="323.4" text-anchor="middle" font-size="12.2" font-weight="bold">Population Density</text>
<text x="0" y="0" transform="translate(282.8,421) rotate(-90)" text-anchor="middle" font-size="10.5" font-weight="bold">%</text>
<rect x="311.7" y="351.2" width="72.8" height="54.2" fill="#fff" stroke="#a0a0a0" stroke-width="1"/>
<rect x="315.7" y="357.5" width="6.5" height="6.5" fill="#c0c0c0" stroke="#000" stroke-width="0.8"/>
<text x="325.2" y="364.6" font-size="10" font-weight="bold">Semi-Rural</text>
<rect x="315.7" y="375.3" width="6.5" height="6.5" fill="#808080" stroke="#000" stroke-width="0.8"/>
<text x="325.2" y="382.4" font-size="10" font-weight="bold">Peri-Urban</text>
<rect x="315.7" y="393.1" width="6.5" height="6.5" fill="#000000" stroke="#000" stroke-width="0.8"/>
<text x="325.2" y="400.2" font-size="10" font-weight="bold">Urban</text>
<line x1="572.2" y1="473.5" x2="768.3" y2="473.5" stroke="#b4b4b4" stroke-width="1"/>
<line x1="572.2" y1="446.5" x2="768.3" y2="446.5" stroke="#b4b4b4" stroke-width="1"/>
<line x1="572.2" y1="420.5" x2="768.3" y2="420.5" stroke="#b4b4b4" stroke-width="1"/>
<line x1="572.2" y1="394.5" x2="768.3" y2="394.5" stroke="#b4b4b4" stroke-width="1"/>
<line x1="572.2" y1="368.5" x2="768.3" y2="368.5" stroke="#b4b4b4" stroke-width="1"/>
<line x1="572.2" y1="342.5" x2="768.5" y2="342.5" stroke="#999" stroke-width="1"/>
<line x1="768.5" y1="342.5" x2="768.5" y2="499.3" stroke="#999" stroke-width="1"/>
<rect x="583.09" y="488.03" width="14.53" height="11.27" fill="#c0c0c0" stroke="#000" stroke-width="0.9"/>
<rect x="597.62" y="482.26" width="14.53" height="17.04" fill="#808080" stroke="#000" stroke-width="0.9"/>
<rect x="612.15" y="436.38" width="14.53" height="62.92" fill="#000000" stroke="#000" stroke-width="0.9"/>
<rect x="648.46" y="491.7" width="14.53" height="7.6" fill="#c0c0c0" stroke="#000" stroke-width="0.9"/>
<rect x="662.99" y="484.88" width="14.53" height="14.42" fill="#808080" stroke="#000" stroke-width="0.9"/>
<rect x="677.51" y="451.06" width="14.53" height="48.24" fill="#000000" stroke="#000" stroke-width="0.9"/>
<rect x="713.83" y="411.47" width="14.53" height="87.83" fill="#c0c0c0" stroke="#000" stroke-width="0.9"/>
<rect x="728.35" y="467.58" width="14.53" height="31.72" fill="#808080" stroke="#000" stroke-width="0.9"/>
<rect x="742.88" y="482" width="14.53" height="17.3" fill="#000000" stroke="#000" stroke-width="0.9"/>
<line x1="572.5" y1="342.5" x2="572.5" y2="500" stroke="#808080" stroke-width="1"/>
<line x1="568.5" y1="499.5" x2="768.3" y2="499.5" stroke="#808080" stroke-width="1"/>
<line x1="568.5" y1="499.5" x2="572.5" y2="499.5" stroke="#808080" stroke-width="1"/>
<text x="564.5" y="502.9" text-anchor="end" font-size="10">0</text>
<line x1="568.5" y1="473.5" x2="572.5" y2="473.5" stroke="#808080" stroke-width="1"/>
<text x="564.5" y="476.68" text-anchor="end" font-size="10">10</text>
<line x1="568.5" y1="446.5" x2="572.5" y2="446.5" stroke="#808080" stroke-width="1"/>
<text x="564.5" y="450.47" text-anchor="end" font-size="10">20</text>
<line x1="568.5" y1="420.5" x2="572.5" y2="420.5" stroke="#808080" stroke-width="1"/>
<text x="564.5" y="424.25" text-anchor="end" font-size="10">30</text>
<line x1="568.5" y1="394.5" x2="572.5" y2="394.5" stroke="#808080" stroke-width="1"/>
<text x="564.5" y="398.03" text-anchor="end" font-size="10">40</text>
<line x1="568.5" y1="368.5" x2="572.5" y2="368.5" stroke="#808080" stroke-width="1"/>
<text x="564.5" y="371.82" text-anchor="end" font-size="10">50</text>
<line x1="568.5" y1="342.5" x2="572.5" y2="342.5" stroke="#808080" stroke-width="1"/>
<text x="564.5" y="345.6" text-anchor="end" font-size="10">60</text>
<line x1="572.5" y1="499.5" x2="572.5" y2="503.5" stroke="#808080" stroke-width="1"/>
<line x1="637.5" y1="499.5" x2="637.5" y2="503.5" stroke="#808080" stroke-width="1"/>
<line x1="702.5" y1="499.5" x2="702.5" y2="503.5" stroke="#808080" stroke-width="1"/>
<line x1="768.5" y1="499.5" x2="768.5" y2="503.5" stroke="#808080" stroke-width="1"/>
<text x="0" y="0" transform="translate(604.88,516.7) scale(0.925,1)" text-anchor="middle" font-size="10.4">Ow n Car</text>
<text x="0" y="0" transform="translate(670.25,516.7) scale(0.925,1)" text-anchor="middle" font-size="10.4">Gas as</text>
<text x="0" y="0" transform="translate(670.25,531.1) scale(0.925,1)" text-anchor="middle" font-size="10.4">Primary Fuel</text>
<text x="0" y="0" transform="translate(670.25,545.5) scale(0.925,1)" text-anchor="middle" font-size="10.4">Source</text>
<text x="0" y="0" transform="translate(735.62,516.7) scale(0.925,1)" text-anchor="middle" font-size="10.4">Earth Floor in</text>
<text x="0" y="0" transform="translate(735.62,531.1) scale(0.925,1)" text-anchor="middle" font-size="10.4">Dw elling</text>
<text x="651" y="323.4" text-anchor="middle" font-size="12.2" font-weight="bold">Clustering</text>
<text x="0" y="0" transform="translate(544.6,420.5) rotate(-90)" text-anchor="middle" font-size="10.5" font-weight="bold">%</text>
<rect x="575.5" y="345.4" width="72.8" height="53.8" fill="#fff" stroke="#a0a0a0" stroke-width="1"/>
<rect x="579.5" y="352" width="6.5" height="6.5" fill="#c0c0c0" stroke="#000" stroke-width="0.8"/>
<text x="589" y="359.1" font-size="10" font-weight="bold">Semi-Rural</text>
<rect x="579.5" y="369.8" width="6.5" height="6.5" fill="#808080" stroke="#000" stroke-width="0.8"/>
<text x="589" y="376.9" font-size="10" font-weight="bold">Peri-Urban</text>
<rect x="579.5" y="387.6" width="6.5" height="6.5" fill="#000000" stroke="#000" stroke-width="0.8"/>
<text x="589" y="394.7" font-size="10" font-weight="bold">Urban</text>
</svg>
</body></html>
